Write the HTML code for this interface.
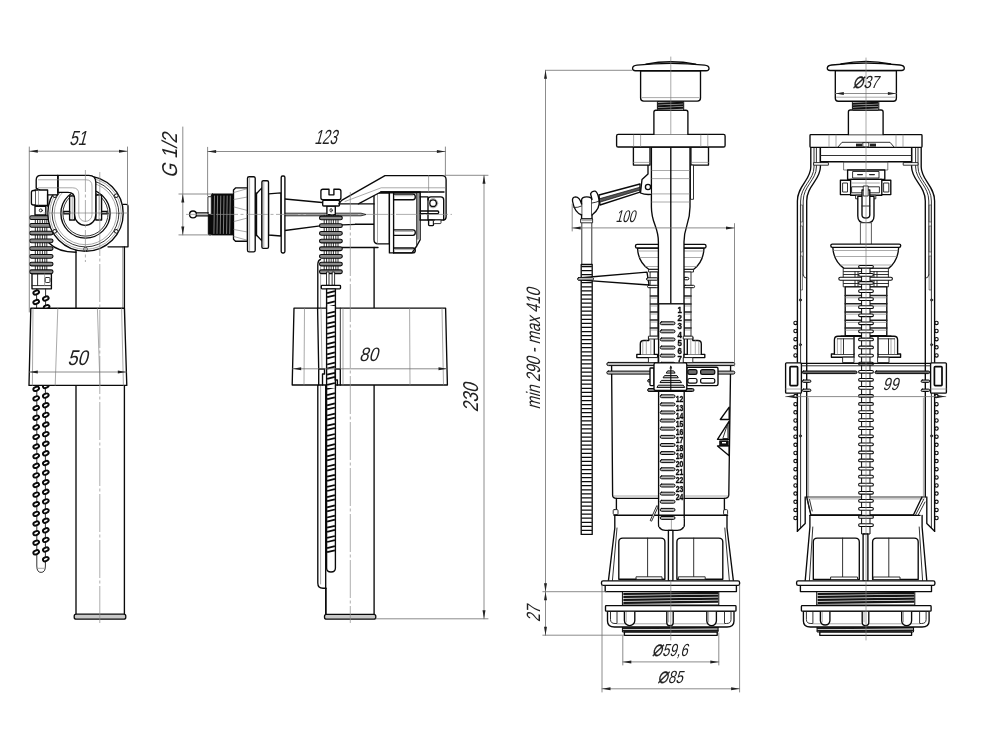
<!DOCTYPE html>
<html lang="en"><head><meta charset="utf-8"><title>Drawing</title>
<style>html,body{margin:0;padding:0;background:#fff;}body{width:1000px;height:750px;overflow:hidden;}svg{display:block;filter:grayscale(1);}</style>
</head><body>
<svg width="1000" height="750" viewBox="0 0 1000 750" font-family="'Liberation Sans', sans-serif" stroke-linecap="round" stroke-linejoin="round">
<g id="d1">
<line x1="76.0" y1="250.0" x2="76.0" y2="614.5" stroke="#0a0a0a" stroke-width="1.35" fill="none"/>
<line x1="124.4" y1="247.0" x2="124.4" y2="614.5" stroke="#0a0a0a" stroke-width="1.35" fill="none"/>
<line x1="122.6" y1="247.0" x2="122.6" y2="308.0" stroke="#7c7c7c" stroke-width="0.65" fill="none"/>
<path d="M123 204.4 H126 Q128 204.4 128 206.4 V246.8 H108" stroke="#0a0a0a" stroke-width="1.35" fill="none"/>
<rect x="74.2" y="614.2" width="51.6" height="5.0" rx="2" stroke="#0a0a0a" stroke-width="1.3" fill="#c8c8c8"/>
<path d="M49 243 Q58 252.2 76 252.2" stroke="#0a0a0a" stroke-width="1.35" fill="none"/>
<line x1="35.3" y1="215.0" x2="35.3" y2="273.8" stroke="#1c1c1c" stroke-width="0.9" fill="none"/>
<line x1="37.6" y1="215.0" x2="37.6" y2="273.8" stroke="#1c1c1c" stroke-width="0.9" fill="none"/>
<line x1="40.0" y1="215.0" x2="40.0" y2="273.8" stroke="#1c1c1c" stroke-width="0.9" fill="none"/>
<line x1="42.4" y1="215.0" x2="42.4" y2="273.8" stroke="#1c1c1c" stroke-width="0.9" fill="none"/>
<line x1="44.8" y1="215.0" x2="44.8" y2="273.8" stroke="#1c1c1c" stroke-width="0.9" fill="none"/>
<line x1="46.8" y1="215.0" x2="46.8" y2="273.8" stroke="#1c1c1c" stroke-width="0.9" fill="none"/>
<rect x="29.6" y="215.8" width="23.4" height="3.7" rx="1.85" stroke="#0a0a0a" stroke-width="1.1" fill="#8a8a8a"/>
<rect x="29.6" y="223.5" width="23.4" height="3.7" rx="1.85" stroke="#0a0a0a" stroke-width="1.1" fill="#8a8a8a"/>
<rect x="29.6" y="231.2" width="23.4" height="3.7" rx="1.85" stroke="#0a0a0a" stroke-width="1.1" fill="#8a8a8a"/>
<rect x="29.6" y="239.0" width="23.4" height="3.7" rx="1.85" stroke="#0a0a0a" stroke-width="1.1" fill="#8a8a8a"/>
<rect x="29.6" y="246.7" width="23.4" height="3.7" rx="1.85" stroke="#0a0a0a" stroke-width="1.1" fill="#8a8a8a"/>
<rect x="29.6" y="254.5" width="23.4" height="3.7" rx="1.85" stroke="#0a0a0a" stroke-width="1.1" fill="#8a8a8a"/>
<rect x="29.6" y="262.2" width="23.4" height="3.7" rx="1.85" stroke="#0a0a0a" stroke-width="1.1" fill="#8a8a8a"/>
<rect x="29.6" y="269.9" width="23.4" height="3.7" rx="1.85" stroke="#0a0a0a" stroke-width="1.1" fill="#8a8a8a"/>
<circle cx="85.5" cy="213.5" r="37.7" stroke="#0a0a0a" stroke-width="1.35" fill="#fff"/>
<circle cx="85.5" cy="213.5" r="35.8" stroke="#7c7c7c" stroke-width="0.65" fill="none"/>
<circle cx="85.5" cy="213.5" r="33.4" stroke="#1c1c1c" stroke-width="0.9" fill="none"/>
<circle cx="85.5" cy="213.5" r="31.2" stroke="#7c7c7c" stroke-width="0.65" fill="none"/>
<circle cx="85.5" cy="213.5" r="24.6" stroke="#0a0a0a" stroke-width="1.35" fill="none"/>
<circle cx="85.5" cy="213.5" r="22.6" stroke="#1c1c1c" stroke-width="0.9" fill="none"/>
<rect x="114.7" y="194.1" width="3.2" height="3.2" rx="0.8" transform="rotate(60 116.3 195.7)" stroke="#1c1c1c" stroke-width="0.9" fill="#fff"/>
<rect x="114.7" y="229.7" width="3.2" height="3.2" rx="0.8" transform="rotate(120 116.3 231.3)" stroke="#1c1c1c" stroke-width="0.9" fill="#fff"/>
<rect x="83.9" y="247.5" width="3.2" height="3.2" rx="0.8" transform="rotate(180 85.5 249.1)" stroke="#1c1c1c" stroke-width="0.9" fill="#fff"/>
<rect x="53.1" y="229.7" width="3.2" height="3.2" rx="0.8" transform="rotate(240 54.7 231.3)" stroke="#1c1c1c" stroke-width="0.9" fill="#fff"/>
<rect x="53.1" y="194.1" width="3.2" height="3.2" rx="0.8" transform="rotate(300 54.7 195.7)" stroke="#1c1c1c" stroke-width="0.9" fill="#fff"/>
<rect x="69.6" y="196.0" width="5.0" height="24.0" rx="0" stroke="#0a0a0a" stroke-width="1.35" fill="#fff"/>
<line x1="72.2" y1="196.0" x2="72.2" y2="220.0" stroke="#7c7c7c" stroke-width="0.65" fill="none"/>
<rect x="95.8" y="195.0" width="5.8" height="25.0" rx="0" stroke="#0a0a0a" stroke-width="1.35" fill="#fff"/>
<line x1="99.0" y1="195.0" x2="99.0" y2="220.0" stroke="#7c7c7c" stroke-width="0.65" fill="none"/>
<rect x="63.8" y="211.5" width="5.8" height="2.2" rx="0" stroke="#0a0a0a" stroke-width="1.35" fill="#fff"/>
<rect x="101.6" y="211.5" width="5.4" height="2.2" rx="0" stroke="#0a0a0a" stroke-width="1.35" fill="#fff"/>
<path d="M57.8 175.4 H88.8 Q95.8 175.4 95.8 182.4 V214.8 A10.6 10.6 0 0 1 74.6 214.8 V199 Q74.6 192.4 68 192.4 H57.8 Z" stroke="#0a0a0a" stroke-width="1.35" fill="#fff"/>
<path d="M57.8 175.4 H41 Q36.2 175.4 36.2 180 V188.2 L47.6 194.8 H57.8 Z" stroke="#0a0a0a" stroke-width="1.35" fill="#fff"/>
<line x1="57.8" y1="175.4" x2="57.8" y2="192.4" stroke="#0a0a0a" stroke-width="1.35" fill="none"/>
<path d="M38.5 179.8 H86 Q92 179.8 92 186 V214.8 A6.6 6.6 0 0 1 78.8 214.8 V194 Q78.8 187.8 72.6 187.8 H38.5" stroke="#7c7c7c" stroke-width="0.65" fill="none"/>
<path d="M35 190 H47.6 V205.5 H35 Z" stroke="#0a0a0a" stroke-width="1.35" fill="#fff"/>
<path d="M35 190.5 H33.4 Q31.4 190.5 31.4 192.5 V203 Q31.4 205 33.4 205 H35" stroke="#0a0a0a" stroke-width="1.35" fill="#fff"/>
<line x1="38.5" y1="190.0" x2="38.5" y2="205.5" stroke="#7c7c7c" stroke-width="0.65" fill="none"/>
<rect x="35.0" y="206.2" width="10.8" height="8.8" rx="0" stroke="#0a0a0a" stroke-width="1.35" fill="#fff"/>
<circle cx="40.8" cy="210.4" r="1.5" stroke="#1c1c1c" stroke-width="0.9" fill="none"/>
<line x1="47.6" y1="194.8" x2="47.6" y2="206.0" stroke="#0a0a0a" stroke-width="1.35" fill="none"/>
<rect x="32.0" y="273.8" width="19.4" height="15.0" rx="0" stroke="#0a0a0a" stroke-width="1.35" fill="#fff"/>
<line x1="32.0" y1="285.6" x2="51.4" y2="285.6" stroke="#1c1c1c" stroke-width="0.9" fill="none"/>
<line x1="37.6" y1="273.8" x2="37.6" y2="285.6" stroke="#1c1c1c" stroke-width="0.9" fill="none"/>
<line x1="44.6" y1="273.8" x2="44.6" y2="285.6" stroke="#7c7c7c" stroke-width="0.65" fill="none"/>
<rect x="45.2" y="277.5" width="4.8" height="5.0" rx="1" stroke="#1c1c1c" stroke-width="0.9" fill="none"/>
<line x1="36.6" y1="289.0" x2="36.6" y2="308.0" stroke="#1c1c1c" stroke-width="0.9" fill="none"/>
<line x1="45.6" y1="289.0" x2="45.6" y2="308.0" stroke="#1c1c1c" stroke-width="0.9" fill="none"/>
<ellipse cx="36.2" cy="292.5" rx="3.0" ry="1.9" transform="rotate(-24 36.2 292.5)" stroke="#0a0a0a" stroke-width="1.9" fill="#fff"/>
<ellipse cx="36.2" cy="302.0" rx="3.0" ry="1.9" transform="rotate(-24 36.2 302.0)" stroke="#0a0a0a" stroke-width="1.9" fill="#fff"/>
<ellipse cx="45.8" cy="298.5" rx="3.0" ry="1.9" transform="rotate(-24 45.8 298.5)" stroke="#0a0a0a" stroke-width="1.9" fill="#fff"/>
<ellipse cx="46.6" cy="307.2" rx="3.0" ry="1.9" transform="rotate(-24 46.6 307.2)" stroke="#0a0a0a" stroke-width="1.9" fill="#fff"/>
<path d="M36.8 385.5 V566 Q36.8 572.4 41.1 572.4 Q45.4 572.4 45.4 566 V385.5" stroke="#1c1c1c" stroke-width="0.9" fill="none"/>
<line x1="38.0" y1="568.3" x2="44.2" y2="568.3" stroke="#7c7c7c" stroke-width="0.65" fill="none"/>
<ellipse cx="36.2" cy="388.8" rx="3.0" ry="1.9" transform="rotate(-24 36.2 388.8)" stroke="#0a0a0a" stroke-width="1.9" fill="#fff"/>
<ellipse cx="36.2" cy="398.4" rx="3.0" ry="1.9" transform="rotate(-24 36.2 398.4)" stroke="#0a0a0a" stroke-width="1.9" fill="#fff"/>
<ellipse cx="36.2" cy="408.0" rx="3.0" ry="1.9" transform="rotate(-24 36.2 408.0)" stroke="#0a0a0a" stroke-width="1.9" fill="#fff"/>
<ellipse cx="36.2" cy="417.7" rx="3.0" ry="1.9" transform="rotate(-24 36.2 417.7)" stroke="#0a0a0a" stroke-width="1.9" fill="#fff"/>
<ellipse cx="36.2" cy="427.3" rx="3.0" ry="1.9" transform="rotate(-24 36.2 427.3)" stroke="#0a0a0a" stroke-width="1.9" fill="#fff"/>
<ellipse cx="36.2" cy="436.9" rx="3.0" ry="1.9" transform="rotate(-24 36.2 436.9)" stroke="#0a0a0a" stroke-width="1.9" fill="#fff"/>
<ellipse cx="36.2" cy="446.5" rx="3.0" ry="1.9" transform="rotate(-24 36.2 446.5)" stroke="#0a0a0a" stroke-width="1.9" fill="#fff"/>
<ellipse cx="36.2" cy="456.1" rx="3.0" ry="1.9" transform="rotate(-24 36.2 456.1)" stroke="#0a0a0a" stroke-width="1.9" fill="#fff"/>
<ellipse cx="36.2" cy="465.8" rx="3.0" ry="1.9" transform="rotate(-24 36.2 465.8)" stroke="#0a0a0a" stroke-width="1.9" fill="#fff"/>
<ellipse cx="36.2" cy="475.4" rx="3.0" ry="1.9" transform="rotate(-24 36.2 475.4)" stroke="#0a0a0a" stroke-width="1.9" fill="#fff"/>
<ellipse cx="36.2" cy="485.0" rx="3.0" ry="1.9" transform="rotate(-24 36.2 485.0)" stroke="#0a0a0a" stroke-width="1.9" fill="#fff"/>
<ellipse cx="36.2" cy="494.6" rx="3.0" ry="1.9" transform="rotate(-24 36.2 494.6)" stroke="#0a0a0a" stroke-width="1.9" fill="#fff"/>
<ellipse cx="36.2" cy="504.2" rx="3.0" ry="1.9" transform="rotate(-24 36.2 504.2)" stroke="#0a0a0a" stroke-width="1.9" fill="#fff"/>
<ellipse cx="36.2" cy="513.9" rx="3.0" ry="1.9" transform="rotate(-24 36.2 513.9)" stroke="#0a0a0a" stroke-width="1.9" fill="#fff"/>
<ellipse cx="36.2" cy="523.5" rx="3.0" ry="1.9" transform="rotate(-24 36.2 523.5)" stroke="#0a0a0a" stroke-width="1.9" fill="#fff"/>
<ellipse cx="36.2" cy="533.1" rx="3.0" ry="1.9" transform="rotate(-24 36.2 533.1)" stroke="#0a0a0a" stroke-width="1.9" fill="#fff"/>
<ellipse cx="36.2" cy="542.7" rx="3.0" ry="1.9" transform="rotate(-24 36.2 542.7)" stroke="#0a0a0a" stroke-width="1.9" fill="#fff"/>
<ellipse cx="36.2" cy="552.3" rx="3.0" ry="1.9" transform="rotate(-24 36.2 552.3)" stroke="#0a0a0a" stroke-width="1.9" fill="#fff"/>
<ellipse cx="45.8" cy="386.0" rx="3.0" ry="1.9" transform="rotate(-24 45.8 386.0)" stroke="#0a0a0a" stroke-width="1.9" fill="#fff"/>
<ellipse cx="45.8" cy="395.6" rx="3.0" ry="1.9" transform="rotate(-24 45.8 395.6)" stroke="#0a0a0a" stroke-width="1.9" fill="#fff"/>
<ellipse cx="45.8" cy="405.2" rx="3.0" ry="1.9" transform="rotate(-24 45.8 405.2)" stroke="#0a0a0a" stroke-width="1.9" fill="#fff"/>
<ellipse cx="45.8" cy="414.9" rx="3.0" ry="1.9" transform="rotate(-24 45.8 414.9)" stroke="#0a0a0a" stroke-width="1.9" fill="#fff"/>
<ellipse cx="45.8" cy="424.5" rx="3.0" ry="1.9" transform="rotate(-24 45.8 424.5)" stroke="#0a0a0a" stroke-width="1.9" fill="#fff"/>
<ellipse cx="45.8" cy="434.1" rx="3.0" ry="1.9" transform="rotate(-24 45.8 434.1)" stroke="#0a0a0a" stroke-width="1.9" fill="#fff"/>
<ellipse cx="45.8" cy="443.7" rx="3.0" ry="1.9" transform="rotate(-24 45.8 443.7)" stroke="#0a0a0a" stroke-width="1.9" fill="#fff"/>
<ellipse cx="45.8" cy="453.3" rx="3.0" ry="1.9" transform="rotate(-24 45.8 453.3)" stroke="#0a0a0a" stroke-width="1.9" fill="#fff"/>
<ellipse cx="45.8" cy="463.0" rx="3.0" ry="1.9" transform="rotate(-24 45.8 463.0)" stroke="#0a0a0a" stroke-width="1.9" fill="#fff"/>
<ellipse cx="45.8" cy="472.6" rx="3.0" ry="1.9" transform="rotate(-24 45.8 472.6)" stroke="#0a0a0a" stroke-width="1.9" fill="#fff"/>
<ellipse cx="45.8" cy="482.2" rx="3.0" ry="1.9" transform="rotate(-24 45.8 482.2)" stroke="#0a0a0a" stroke-width="1.9" fill="#fff"/>
<ellipse cx="45.8" cy="491.8" rx="3.0" ry="1.9" transform="rotate(-24 45.8 491.8)" stroke="#0a0a0a" stroke-width="1.9" fill="#fff"/>
<ellipse cx="45.8" cy="501.4" rx="3.0" ry="1.9" transform="rotate(-24 45.8 501.4)" stroke="#0a0a0a" stroke-width="1.9" fill="#fff"/>
<ellipse cx="45.8" cy="511.1" rx="3.0" ry="1.9" transform="rotate(-24 45.8 511.1)" stroke="#0a0a0a" stroke-width="1.9" fill="#fff"/>
<ellipse cx="45.8" cy="520.7" rx="3.0" ry="1.9" transform="rotate(-24 45.8 520.7)" stroke="#0a0a0a" stroke-width="1.9" fill="#fff"/>
<ellipse cx="45.8" cy="530.3" rx="3.0" ry="1.9" transform="rotate(-24 45.8 530.3)" stroke="#0a0a0a" stroke-width="1.9" fill="#fff"/>
<ellipse cx="45.8" cy="539.9" rx="3.0" ry="1.9" transform="rotate(-24 45.8 539.9)" stroke="#0a0a0a" stroke-width="1.9" fill="#fff"/>
<ellipse cx="45.8" cy="549.5" rx="3.0" ry="1.9" transform="rotate(-24 45.8 549.5)" stroke="#0a0a0a" stroke-width="1.9" fill="#fff"/>
<ellipse cx="45.8" cy="559.2" rx="3.0" ry="1.9" transform="rotate(-24 45.8 559.2)" stroke="#0a0a0a" stroke-width="1.9" fill="#fff"/>
<path d="M30.8 308.2 H124.4 L126.8 385.4 H29 Z" stroke="#0a0a0a" stroke-width="1.35" fill="#fff"/>
<line x1="33.0" y1="308.2" x2="32.4" y2="385.4" stroke="#7c7c7c" stroke-width="0.65" fill="none"/>
<line x1="57.8" y1="308.2" x2="55.2" y2="385.4" stroke="#7c7c7c" stroke-width="0.65" fill="none"/>
<line x1="97.4" y1="308.2" x2="100.0" y2="385.4" stroke="#7c7c7c" stroke-width="0.65" fill="none"/>
<line x1="121.6" y1="308.2" x2="123.4" y2="385.4" stroke="#7c7c7c" stroke-width="0.65" fill="none"/>
<line x1="85.4" y1="170.0" x2="85.4" y2="262.0" stroke="#8c8c8c" stroke-width="0.7" fill="none" stroke-dasharray="22 2.5 3 2.5" stroke-linecap="butt"/>
<line x1="99.8" y1="172.0" x2="99.8" y2="623.0" stroke="#8c8c8c" stroke-width="0.7" fill="none" stroke-dasharray="38 2.5 3 2.5" stroke-linecap="butt"/>
<line x1="44.0" y1="213.0" x2="128.0" y2="213.0" stroke="#7c7c7c" stroke-width="0.65" fill="none"/>
<line x1="29.3" y1="147.0" x2="29.3" y2="312.0" stroke="#6e6e6e" stroke-width="0.8" fill="none"/>
<line x1="127.5" y1="147.0" x2="127.5" y2="206.0" stroke="#6e6e6e" stroke-width="0.8" fill="none"/>
<line x1="29.3" y1="151.2" x2="127.5" y2="151.2" stroke="#6e6e6e" stroke-width="0.8" fill="none"/>
<polygon points="29.3,151.2 37.8,149.7 37.8,152.7" fill="#222"/>
<polygon points="127.5,151.2 119.0,152.7 119.0,149.7" fill="#222"/>
<text transform="translate(77.6 144.6) skewX(-15) scale(0.76 1)" font-size="20.5" font-weight="normal" text-anchor="middle" fill="#222">51</text>
<line x1="29.3" y1="372.0" x2="126.3" y2="372.0" stroke="#6e6e6e" stroke-width="0.8" fill="none"/>
<polygon points="29.3,372.0 37.8,370.5 37.8,373.5" fill="#222"/>
<polygon points="126.3,372.0 117.8,373.5 117.8,370.5" fill="#222"/>
<text transform="translate(77.2 365.0) skewX(-15) scale(0.85 1)" font-size="21.3" font-weight="normal" text-anchor="middle" fill="#222">50</text>
</g>
<g id="d2">
<path d="M320.5 259.5 Q317.8 260.5 317.8 265 V583 Q317.8 588.2 323 588.2 H325.9" stroke="#0a0a0a" stroke-width="1.35" fill="none"/>
<line x1="320.6" y1="266.0" x2="320.6" y2="584.0" stroke="#7c7c7c" stroke-width="0.65" fill="none"/>
<line x1="325.9" y1="588.2" x2="325.9" y2="614.3" stroke="#0a0a0a" stroke-width="1.35" fill="none"/>
<line x1="374.1" y1="247.5" x2="374.1" y2="614.3" stroke="#0a0a0a" stroke-width="1.35" fill="none"/>
<rect x="324.5" y="614.3" width="51.3" height="4.9" rx="2" stroke="#0a0a0a" stroke-width="1.3" fill="#c8c8c8"/>
<line x1="342.3" y1="247.5" x2="378.0" y2="247.5" stroke="#0a0a0a" stroke-width="1.35" fill="none"/>
<path d="M284.9 199.0 L322.0 202.5" stroke="#0a0a0a" stroke-width="1.35" fill="none"/>
<path d="M284.9 230.5 L322.0 225.6 L356.0 224.4" stroke="#0a0a0a" stroke-width="1.35" fill="none"/>
<line x1="355.6" y1="224.2" x2="374.0" y2="224.2" stroke="#0a0a0a" stroke-width="1.35" fill="none"/>
<path d="M284.9 213.2 H361 L366 214.5 L361 215.8 H284.9 Z" stroke="#1c1c1c" stroke-width="0.9" fill="#bbb"/>
<rect x="211.3" y="194.0" width="22.2" height="40.9" rx="1" fill="#0a0a0a" stroke="#0a0a0a" stroke-width="1"/>
<rect x="208.3" y="214.4" width="3.7" height="20.5" rx="1" fill="#0a0a0a" stroke="#0a0a0a" stroke-width="1"/>
<rect x="208.3" y="196.7" width="3.0" height="17.7" rx="0" stroke="#1c1c1c" stroke-width="0.9" fill="#fff"/>
<line x1="214.5" y1="196.0" x2="213.9" y2="233.5" stroke="#ddd" stroke-width="0.55"/>
<line x1="217.6" y1="196.0" x2="217.0" y2="233.5" stroke="#ddd" stroke-width="0.55"/>
<line x1="220.8" y1="196.0" x2="220.2" y2="233.5" stroke="#ddd" stroke-width="0.55"/>
<line x1="224.0" y1="196.0" x2="223.4" y2="233.5" stroke="#ddd" stroke-width="0.55"/>
<line x1="227.2" y1="196.0" x2="226.6" y2="233.5" stroke="#ddd" stroke-width="0.55"/>
<line x1="230.3" y1="196.0" x2="229.7" y2="233.5" stroke="#ddd" stroke-width="0.55"/>
<line x1="196.0" y1="212.9" x2="208.3" y2="212.9" stroke="#0a0a0a" stroke-width="1.35" fill="none"/>
<line x1="196.0" y1="215.9" x2="208.3" y2="215.9" stroke="#0a0a0a" stroke-width="1.35" fill="none"/>
<circle cx="193.0" cy="214.4" r="3.4" stroke="#0a0a0a" stroke-width="1.35" fill="#fff"/>
<path d="M235.5 187.9 H247.5 V241.2 H235.5 L233.5 239.2 V189.9 Z" stroke="#0a0a0a" stroke-width="1.35" fill="#fff"/>
<line x1="233.8" y1="192.5" x2="247.5" y2="188.6" stroke="#7c7c7c" stroke-width="0.65" fill="none"/>
<line x1="233.8" y1="236.5" x2="247.5" y2="240.3" stroke="#7c7c7c" stroke-width="0.65" fill="none"/>
<line x1="234.0" y1="207.0" x2="247.5" y2="210.5" stroke="#7c7c7c" stroke-width="0.65" fill="none"/>
<line x1="234.0" y1="221.5" x2="247.5" y2="218.0" stroke="#7c7c7c" stroke-width="0.65" fill="none"/>
<line x1="233.8" y1="199.5" x2="247.5" y2="197.0" stroke="#7c7c7c" stroke-width="0.65" fill="none"/>
<line x1="233.8" y1="229.5" x2="247.5" y2="232.0" stroke="#7c7c7c" stroke-width="0.65" fill="none"/>
<path d="M255.2 193.5 H256.6 L261.9 187.9 V240.9 L256.6 235.3 H255.2 Z" stroke="#0a0a0a" stroke-width="1.35" fill="#fff"/>
<line x1="256.2" y1="193.5" x2="256.2" y2="235.3" stroke="#0a0a0a" stroke-width="2"/>
<path d="M268.5 193.8 L281 192.8 V236 L268.5 235 Z" stroke="#0a0a0a" stroke-width="1.35" fill="#fff"/>
<rect x="247.5" y="176.7" width="7.7" height="75.2" rx="1.6" stroke="#0a0a0a" stroke-width="1.35" fill="#fff"/>
<line x1="249.6" y1="178.0" x2="249.6" y2="250.6" stroke="#7c7c7c" stroke-width="0.65" fill="none"/>
<rect x="261.9" y="180.7" width="6.6" height="67.7" rx="1.4" stroke="#0a0a0a" stroke-width="1.35" fill="#fff"/>
<line x1="263.8" y1="182.0" x2="263.8" y2="247.0" stroke="#7c7c7c" stroke-width="0.65" fill="none"/>
<rect x="281.2" y="176.0" width="3.7" height="77.0" rx="1.4" stroke="#0a0a0a" stroke-width="1.35" fill="#fff"/>
<line x1="324.2" y1="215.0" x2="324.2" y2="272.0" stroke="#1c1c1c" stroke-width="0.9" fill="none"/>
<line x1="326.6" y1="215.0" x2="326.6" y2="272.0" stroke="#1c1c1c" stroke-width="0.9" fill="none"/>
<line x1="329.0" y1="215.0" x2="329.0" y2="272.0" stroke="#1c1c1c" stroke-width="0.9" fill="none"/>
<line x1="331.2" y1="215.0" x2="331.2" y2="272.0" stroke="#1c1c1c" stroke-width="0.9" fill="none"/>
<line x1="333.4" y1="215.0" x2="333.4" y2="272.0" stroke="#1c1c1c" stroke-width="0.9" fill="none"/>
<line x1="335.8" y1="215.0" x2="335.8" y2="272.0" stroke="#1c1c1c" stroke-width="0.9" fill="none"/>
<line x1="338.0" y1="215.0" x2="338.0" y2="272.0" stroke="#1c1c1c" stroke-width="0.9" fill="none"/>
<rect x="319.5" y="216.1" width="22.8" height="3.7" rx="1.85" stroke="#0a0a0a" stroke-width="1.1" fill="#8a8a8a"/>
<rect x="319.5" y="223.8" width="22.8" height="3.7" rx="1.85" stroke="#0a0a0a" stroke-width="1.1" fill="#8a8a8a"/>
<rect x="319.5" y="231.5" width="22.8" height="3.7" rx="1.85" stroke="#0a0a0a" stroke-width="1.1" fill="#8a8a8a"/>
<rect x="319.5" y="239.2" width="22.8" height="3.7" rx="1.85" stroke="#0a0a0a" stroke-width="1.1" fill="#8a8a8a"/>
<rect x="319.5" y="246.9" width="22.8" height="3.7" rx="1.85" stroke="#0a0a0a" stroke-width="1.1" fill="#8a8a8a"/>
<rect x="319.5" y="254.5" width="22.8" height="3.7" rx="1.85" stroke="#0a0a0a" stroke-width="1.1" fill="#8a8a8a"/>
<rect x="319.5" y="262.2" width="22.8" height="3.7" rx="1.85" stroke="#0a0a0a" stroke-width="1.1" fill="#8a8a8a"/>
<rect x="319.5" y="269.9" width="22.8" height="3.7" rx="1.85" stroke="#0a0a0a" stroke-width="1.1" fill="#8a8a8a"/>
<rect x="326.9" y="206.0" width="8.4" height="8.6" rx="0" stroke="#0a0a0a" stroke-width="1.35" fill="#fff"/>
<ellipse cx="331.1" cy="210.3" rx="1.1" ry="1.8" stroke="#1c1c1c" stroke-width="0.9" fill="none"/>
<rect x="322.7" y="200.4" width="16.8" height="5.6" rx="1" stroke="#0a0a0a" stroke-width="1.35" fill="#fff"/>
<path d="M322.9 189.2 H329 V194.8 H333.9 V189.2 H338.9 Q340.9 189.2 340.9 191.2 V197.7 Q340.9 199.7 338.9 199.7 H322.9 Q320.9 199.7 320.9 197.7 V191.2 Q320.9 189.2 322.9 189.2 Z" stroke="#0a0a0a" stroke-width="1.35" fill="#fff"/>
<rect x="326.9" y="272.0" width="2.1" height="13.3" rx="0" stroke="#1c1c1c" stroke-width="0.9" fill="#fff"/>
<rect x="332.5" y="272.0" width="2.1" height="13.3" rx="0" stroke="#1c1c1c" stroke-width="0.9" fill="#fff"/>
<rect x="321.3" y="285.3" width="19.2" height="3.5" rx="0.8" stroke="#0a0a0a" stroke-width="1.35" fill="#fff"/>
<line x1="325.7" y1="385.0" x2="325.7" y2="614.3" stroke="#0a0a0a" stroke-width="1.35" fill="none"/>
<path d="M326.6 288.8 V568 Q326.6 572 331 572 Q335.4 572 335.4 568 V288.8 Z" stroke="#0a0a0a" stroke-width="1.35" fill="#fff"/>
<line x1="327.1" y1="293.1" x2="334.9" y2="291.2" stroke="#0a0a0a" stroke-width="1.7" stroke-linecap="butt"/>
<line x1="327.1" y1="297.2" x2="334.9" y2="295.3" stroke="#0a0a0a" stroke-width="1.7" stroke-linecap="butt"/>
<line x1="327.1" y1="303.3" x2="334.9" y2="301.4" stroke="#0a0a0a" stroke-width="1.7" stroke-linecap="butt"/>
<line x1="327.1" y1="307.4" x2="334.9" y2="305.5" stroke="#0a0a0a" stroke-width="1.7" stroke-linecap="butt"/>
<line x1="327.1" y1="313.5" x2="334.9" y2="311.6" stroke="#0a0a0a" stroke-width="1.7" stroke-linecap="butt"/>
<line x1="327.1" y1="317.6" x2="334.9" y2="315.7" stroke="#0a0a0a" stroke-width="1.7" stroke-linecap="butt"/>
<line x1="327.1" y1="323.7" x2="334.9" y2="321.8" stroke="#0a0a0a" stroke-width="1.7" stroke-linecap="butt"/>
<line x1="327.1" y1="327.8" x2="334.9" y2="325.9" stroke="#0a0a0a" stroke-width="1.7" stroke-linecap="butt"/>
<line x1="327.1" y1="333.9" x2="334.9" y2="332.0" stroke="#0a0a0a" stroke-width="1.7" stroke-linecap="butt"/>
<line x1="327.1" y1="338.0" x2="334.9" y2="336.1" stroke="#0a0a0a" stroke-width="1.7" stroke-linecap="butt"/>
<line x1="327.1" y1="344.1" x2="334.9" y2="342.2" stroke="#0a0a0a" stroke-width="1.7" stroke-linecap="butt"/>
<line x1="327.1" y1="348.2" x2="334.9" y2="346.3" stroke="#0a0a0a" stroke-width="1.7" stroke-linecap="butt"/>
<line x1="327.1" y1="354.3" x2="334.9" y2="352.4" stroke="#0a0a0a" stroke-width="1.7" stroke-linecap="butt"/>
<line x1="327.1" y1="358.4" x2="334.9" y2="356.5" stroke="#0a0a0a" stroke-width="1.7" stroke-linecap="butt"/>
<line x1="327.1" y1="364.5" x2="334.9" y2="362.6" stroke="#0a0a0a" stroke-width="1.7" stroke-linecap="butt"/>
<line x1="327.1" y1="368.6" x2="334.9" y2="366.7" stroke="#0a0a0a" stroke-width="1.7" stroke-linecap="butt"/>
<line x1="327.1" y1="374.7" x2="334.9" y2="372.8" stroke="#0a0a0a" stroke-width="1.7" stroke-linecap="butt"/>
<line x1="327.1" y1="378.8" x2="334.9" y2="376.9" stroke="#0a0a0a" stroke-width="1.7" stroke-linecap="butt"/>
<line x1="327.1" y1="384.9" x2="334.9" y2="383.0" stroke="#0a0a0a" stroke-width="1.7" stroke-linecap="butt"/>
<line x1="327.1" y1="389.0" x2="334.9" y2="387.1" stroke="#0a0a0a" stroke-width="1.7" stroke-linecap="butt"/>
<line x1="327.1" y1="395.1" x2="334.9" y2="393.2" stroke="#0a0a0a" stroke-width="1.7" stroke-linecap="butt"/>
<line x1="327.1" y1="399.2" x2="334.9" y2="397.3" stroke="#0a0a0a" stroke-width="1.7" stroke-linecap="butt"/>
<line x1="327.1" y1="405.3" x2="334.9" y2="403.4" stroke="#0a0a0a" stroke-width="1.7" stroke-linecap="butt"/>
<line x1="327.1" y1="409.4" x2="334.9" y2="407.5" stroke="#0a0a0a" stroke-width="1.7" stroke-linecap="butt"/>
<line x1="327.1" y1="415.5" x2="334.9" y2="413.6" stroke="#0a0a0a" stroke-width="1.7" stroke-linecap="butt"/>
<line x1="327.1" y1="419.6" x2="334.9" y2="417.7" stroke="#0a0a0a" stroke-width="1.7" stroke-linecap="butt"/>
<line x1="327.1" y1="425.7" x2="334.9" y2="423.8" stroke="#0a0a0a" stroke-width="1.7" stroke-linecap="butt"/>
<line x1="327.1" y1="429.8" x2="334.9" y2="427.9" stroke="#0a0a0a" stroke-width="1.7" stroke-linecap="butt"/>
<line x1="327.1" y1="435.9" x2="334.9" y2="434.0" stroke="#0a0a0a" stroke-width="1.7" stroke-linecap="butt"/>
<line x1="327.1" y1="440.0" x2="334.9" y2="438.1" stroke="#0a0a0a" stroke-width="1.7" stroke-linecap="butt"/>
<line x1="327.1" y1="446.1" x2="334.9" y2="444.2" stroke="#0a0a0a" stroke-width="1.7" stroke-linecap="butt"/>
<line x1="327.1" y1="450.2" x2="334.9" y2="448.3" stroke="#0a0a0a" stroke-width="1.7" stroke-linecap="butt"/>
<line x1="327.1" y1="456.3" x2="334.9" y2="454.4" stroke="#0a0a0a" stroke-width="1.7" stroke-linecap="butt"/>
<line x1="327.1" y1="460.4" x2="334.9" y2="458.5" stroke="#0a0a0a" stroke-width="1.7" stroke-linecap="butt"/>
<line x1="327.1" y1="466.5" x2="334.9" y2="464.6" stroke="#0a0a0a" stroke-width="1.7" stroke-linecap="butt"/>
<line x1="327.1" y1="470.6" x2="334.9" y2="468.7" stroke="#0a0a0a" stroke-width="1.7" stroke-linecap="butt"/>
<line x1="327.1" y1="476.7" x2="334.9" y2="474.8" stroke="#0a0a0a" stroke-width="1.7" stroke-linecap="butt"/>
<line x1="327.1" y1="480.8" x2="334.9" y2="478.9" stroke="#0a0a0a" stroke-width="1.7" stroke-linecap="butt"/>
<line x1="327.1" y1="486.9" x2="334.9" y2="485.0" stroke="#0a0a0a" stroke-width="1.7" stroke-linecap="butt"/>
<line x1="327.1" y1="491.0" x2="334.9" y2="489.1" stroke="#0a0a0a" stroke-width="1.7" stroke-linecap="butt"/>
<line x1="327.1" y1="497.1" x2="334.9" y2="495.2" stroke="#0a0a0a" stroke-width="1.7" stroke-linecap="butt"/>
<line x1="327.1" y1="501.2" x2="334.9" y2="499.3" stroke="#0a0a0a" stroke-width="1.7" stroke-linecap="butt"/>
<line x1="327.1" y1="507.3" x2="334.9" y2="505.4" stroke="#0a0a0a" stroke-width="1.7" stroke-linecap="butt"/>
<line x1="327.1" y1="511.4" x2="334.9" y2="509.5" stroke="#0a0a0a" stroke-width="1.7" stroke-linecap="butt"/>
<line x1="327.1" y1="517.5" x2="334.9" y2="515.6" stroke="#0a0a0a" stroke-width="1.7" stroke-linecap="butt"/>
<line x1="327.1" y1="521.6" x2="334.9" y2="519.7" stroke="#0a0a0a" stroke-width="1.7" stroke-linecap="butt"/>
<line x1="327.1" y1="527.7" x2="334.9" y2="525.8" stroke="#0a0a0a" stroke-width="1.7" stroke-linecap="butt"/>
<line x1="327.1" y1="531.8" x2="334.9" y2="529.9" stroke="#0a0a0a" stroke-width="1.7" stroke-linecap="butt"/>
<line x1="327.1" y1="537.9" x2="334.9" y2="536.0" stroke="#0a0a0a" stroke-width="1.7" stroke-linecap="butt"/>
<line x1="327.1" y1="542.0" x2="334.9" y2="540.1" stroke="#0a0a0a" stroke-width="1.7" stroke-linecap="butt"/>
<line x1="327.1" y1="548.1" x2="334.9" y2="546.2" stroke="#0a0a0a" stroke-width="1.7" stroke-linecap="butt"/>
<line x1="327.1" y1="552.2" x2="334.9" y2="550.3" stroke="#0a0a0a" stroke-width="1.7" stroke-linecap="butt"/>
<path d="M374 193 H389.4 V243.8 H378 Q374 243.8 374 239.8 Z" stroke="#0a0a0a" stroke-width="1.35" fill="#fff"/>
<line x1="377.5" y1="193.0" x2="377.5" y2="243.5" stroke="#7c7c7c" stroke-width="0.65" fill="none"/>
<line x1="358.4" y1="203.9" x2="374.0" y2="203.9" stroke="#0a0a0a" stroke-width="1.35" fill="none"/>
<path d="M389.4 192.7 H420.2 V239.6 L416.7 246 L412 252.9 H389.4 Z" stroke="#0a0a0a" stroke-width="1.35" fill="#fff"/>
<rect x="416.7" y="193.2" width="3.5" height="46.4" rx="0" fill="#999" stroke="none"/>
<line x1="416.7" y1="192.7" x2="416.7" y2="246.0" stroke="#1c1c1c" stroke-width="0.9" fill="none"/>
<line x1="393.6" y1="192.7" x2="393.6" y2="252.9" stroke="#0a0a0a" stroke-width="1.35" fill="none"/>
<path d="M393.6 194.1 H413 Q415.3 194.1 415.3 196.89999999999998 Q415.3 199.7 413 199.7 H393.6" stroke="#0a0a0a" stroke-width="1.35" fill="none"/>
<line x1="395.0" y1="195.7" x2="413.0" y2="195.7" stroke="#7c7c7c" stroke-width="0.65" fill="none"/>
<path d="M393.6 229.8 H413 Q415.3 229.8 415.3 232.60000000000002 Q415.3 235.4 413 235.4 H393.6" stroke="#0a0a0a" stroke-width="1.35" fill="none"/>
<line x1="395.0" y1="231.4" x2="413.0" y2="231.4" stroke="#7c7c7c" stroke-width="0.65" fill="none"/>
<path d="M393.6 248 H413 Q415.3 248 415.3 250.45 Q415.3 252.9 413 252.9 H393.6" stroke="#0a0a0a" stroke-width="1.35" fill="none"/>
<line x1="395.0" y1="249.6" x2="413.0" y2="249.6" stroke="#7c7c7c" stroke-width="0.65" fill="none"/>
<path d="M338.8 203.9 L341.6 200.4 L385 175.6 H442 Q446.1 175.6 446.1 179.7 V217 Q446.1 220 443 220 H428 V196.9 H420.2 V192 H380.8 L358.4 203.9 Z" stroke="#0a0a0a" stroke-width="1.35" fill="#fff"/>
<line x1="380.8" y1="192.0" x2="444.0" y2="192.0" stroke="#0a0a0a" stroke-width="1.35" fill="none"/>
<path d="M345.0 201.5 L381.2 187.8 L445.0 187.8" stroke="#7c7c7c" stroke-width="0.65" fill="none"/>
<line x1="428.6" y1="175.6" x2="428.6" y2="192.0" stroke="#7c7c7c" stroke-width="0.65" fill="none"/>
<path d="M428 199.9 Q428 196.9 431 196.9 H440.7 Q443.7 196.9 443.7 199.9 V220" stroke="#0a0a0a" stroke-width="1.35" fill="none"/>
<circle cx="433.1" cy="203.2" r="3.3" stroke="#0a0a0a" stroke-width="1.35" fill="#fff"/>
<circle cx="433.1" cy="203.2" r="4.6" stroke="#7c7c7c" stroke-width="0.65" fill="none"/>
<path d="M420.2 211 H438 Q439.4 212.3 438 213.6 H420.2" stroke="#0a0a0a" stroke-width="1.35" fill="none"/>
<rect x="428.6" y="220.0" width="4.9" height="5.6" rx="0.8" stroke="#0a0a0a" stroke-width="1.35" fill="#fff"/>
<rect x="433.5" y="220.0" width="7.5" height="3.6" rx="0.8" stroke="#1c1c1c" stroke-width="0.9" fill="#fff"/>
<line x1="420.2" y1="196.9" x2="420.2" y2="220.0" stroke="#0a0a0a" stroke-width="1.35" fill="none"/>
<line x1="420.2" y1="220.0" x2="428.0" y2="220.0" stroke="#0a0a0a" stroke-width="1.35" fill="none"/>
<path d="M294 308.1 H445.6 L447.4 385 H292.2 Z" stroke="#0a0a0a" stroke-width="1.35" fill="#fff"/>
<line x1="304.5" y1="308.1" x2="304.0" y2="385.0" stroke="#7c7c7c" stroke-width="0.65" fill="none"/>
<line x1="409.6" y1="308.1" x2="410.0" y2="385.0" stroke="#7c7c7c" stroke-width="0.65" fill="none"/>
<line x1="442.0" y1="308.1" x2="443.5" y2="385.0" stroke="#7c7c7c" stroke-width="0.65" fill="none"/>
<line x1="317.6" y1="308.1" x2="318.7" y2="369.0" stroke="#0a0a0a" stroke-width="1.35" fill="none"/>
<line x1="321.0" y1="308.1" x2="322.0" y2="369.0" stroke="#7c7c7c" stroke-width="0.65" fill="none"/>
<line x1="340.3" y1="308.1" x2="340.3" y2="369.0" stroke="#1c1c1c" stroke-width="0.9" fill="none"/>
<line x1="343.0" y1="308.1" x2="343.0" y2="385.0" stroke="#7c7c7c" stroke-width="0.65" fill="none"/>
<rect x="326.6" y="306" width="8.8" height="82" fill="#fff"/>
<path d="M326.6 306 V388 M335.4 306 V388" stroke="#0a0a0a" stroke-width="1.35" fill="none"/>
<line x1="327.1" y1="313.5" x2="334.9" y2="311.6" stroke="#0a0a0a" stroke-width="1.7" stroke-linecap="butt"/>
<line x1="327.1" y1="317.6" x2="334.9" y2="315.7" stroke="#0a0a0a" stroke-width="1.7" stroke-linecap="butt"/>
<line x1="327.1" y1="323.7" x2="334.9" y2="321.8" stroke="#0a0a0a" stroke-width="1.7" stroke-linecap="butt"/>
<line x1="327.1" y1="327.8" x2="334.9" y2="325.9" stroke="#0a0a0a" stroke-width="1.7" stroke-linecap="butt"/>
<line x1="327.1" y1="333.9" x2="334.9" y2="332.0" stroke="#0a0a0a" stroke-width="1.7" stroke-linecap="butt"/>
<line x1="327.1" y1="338.0" x2="334.9" y2="336.1" stroke="#0a0a0a" stroke-width="1.7" stroke-linecap="butt"/>
<line x1="327.1" y1="344.1" x2="334.9" y2="342.2" stroke="#0a0a0a" stroke-width="1.7" stroke-linecap="butt"/>
<line x1="327.1" y1="348.2" x2="334.9" y2="346.3" stroke="#0a0a0a" stroke-width="1.7" stroke-linecap="butt"/>
<line x1="327.1" y1="354.3" x2="334.9" y2="352.4" stroke="#0a0a0a" stroke-width="1.7" stroke-linecap="butt"/>
<line x1="327.1" y1="358.4" x2="334.9" y2="356.5" stroke="#0a0a0a" stroke-width="1.7" stroke-linecap="butt"/>
<line x1="327.1" y1="364.5" x2="334.9" y2="362.6" stroke="#0a0a0a" stroke-width="1.7" stroke-linecap="butt"/>
<line x1="327.1" y1="368.6" x2="334.9" y2="366.7" stroke="#0a0a0a" stroke-width="1.7" stroke-linecap="butt"/>
<line x1="327.1" y1="374.7" x2="334.9" y2="372.8" stroke="#0a0a0a" stroke-width="1.7" stroke-linecap="butt"/>
<line x1="327.1" y1="378.8" x2="334.9" y2="376.9" stroke="#0a0a0a" stroke-width="1.7" stroke-linecap="butt"/>
<line x1="327.1" y1="384.9" x2="334.9" y2="383.0" stroke="#0a0a0a" stroke-width="1.7" stroke-linecap="butt"/>
<path d="M318.7 369 H324.5 V374 H322.5 V385 M318.7 369 V385" stroke="#0a0a0a" stroke-width="1.35" fill="none"/>
<path d="M340.3 369 H335.2 V380 H337.4 V385 M340.3 369 V385" stroke="#0a0a0a" stroke-width="1.35" fill="none"/>
<line x1="186.0" y1="214.4" x2="452.0" y2="214.4" stroke="#8c8c8c" stroke-width="0.7" fill="none" stroke-dasharray="22 2.5 3 2.5" stroke-linecap="butt"/>
<line x1="350.3" y1="192.0" x2="350.3" y2="623.0" stroke="#8c8c8c" stroke-width="0.7" fill="none" stroke-dasharray="38 2.5 3 2.5" stroke-linecap="butt"/>
<line x1="207.6" y1="147.3" x2="207.6" y2="195.6" stroke="#6e6e6e" stroke-width="0.8" fill="none"/>
<line x1="445.4" y1="147.0" x2="445.4" y2="175.2" stroke="#6e6e6e" stroke-width="0.8" fill="none"/>
<line x1="207.6" y1="151.5" x2="445.4" y2="151.5" stroke="#6e6e6e" stroke-width="0.8" fill="none"/>
<polygon points="207.6,151.5 216.1,150.0 216.1,153.0" fill="#222"/>
<polygon points="445.4,151.5 436.9,153.0 436.9,150.0" fill="#222"/>
<text transform="translate(325.4 144.4) skewX(-15) scale(0.66 1)" font-size="20.5" font-weight="normal" text-anchor="middle" fill="#222">123</text>
<line x1="292.7" y1="368.8" x2="447.0" y2="368.8" stroke="#6e6e6e" stroke-width="0.8" fill="none"/>
<polygon points="292.7,368.8 301.2,367.3 301.2,370.3" fill="#222"/>
<polygon points="447.0,368.8 438.5,370.3 438.5,367.3" fill="#222"/>
<text transform="translate(368.4 361.3) skewX(-15) scale(0.87 1)" font-size="19.4" font-weight="normal" text-anchor="middle" fill="#222">80</text>
<line x1="445.0" y1="175.3" x2="488.0" y2="175.3" stroke="#6e6e6e" stroke-width="0.8" fill="none"/>
<line x1="376.0" y1="618.8" x2="488.0" y2="618.8" stroke="#6e6e6e" stroke-width="0.8" fill="none"/>
<line x1="484.0" y1="175.3" x2="484.0" y2="618.8" stroke="#6e6e6e" stroke-width="0.8" fill="none"/>
<polygon points="484.0,175.3 485.5,183.8 482.5,183.8" fill="#222"/>
<polygon points="484.0,618.8 482.5,610.3 485.5,610.3" fill="#222"/>
<text transform="translate(477.7 398.0) rotate(-90) skewX(-15) scale(0.8 1)" font-size="21.5" font-weight="normal" text-anchor="middle" fill="#222">230</text>
<line x1="182.8" y1="127.0" x2="182.8" y2="234.9" stroke="#6e6e6e" stroke-width="0.8" fill="none"/>
<polygon points="182.8,194.0 184.3,202.5 181.3,202.5" fill="#222"/>
<polygon points="182.8,234.9 181.3,226.4 184.3,226.4" fill="#222"/>
<line x1="178.9" y1="194.0" x2="211.8" y2="194.0" stroke="#6e6e6e" stroke-width="0.8" fill="none"/>
<line x1="178.9" y1="234.9" x2="211.0" y2="234.9" stroke="#6e6e6e" stroke-width="0.8" fill="none"/>
<text transform="translate(176.7 155.9) rotate(-90) skewX(-15) scale(0.85 1)" font-size="21.5" font-weight="normal" text-anchor="middle" fill="#222">G 1/2</text>
</g>
<g id="d3">
<rect x="582.2" y="218.0" width="9.6" height="47.0" rx="0" stroke="#1c1c1c" stroke-width="0.9" fill="#fff"/>
<rect x="581.2" y="264.5" width="11.0" height="269.9" rx="0" stroke="#0a0a0a" stroke-width="1.3" fill="#fff"/>
<line x1="582.0" y1="266.5" x2="591.4" y2="266.5" stroke="#0a0a0a" stroke-width="1.25"/>
<line x1="582.0" y1="270.6" x2="591.4" y2="270.6" stroke="#0a0a0a" stroke-width="1.25"/>
<line x1="582.0" y1="274.6" x2="591.4" y2="274.6" stroke="#0a0a0a" stroke-width="1.25"/>
<line x1="582.0" y1="278.7" x2="591.4" y2="278.7" stroke="#0a0a0a" stroke-width="1.25"/>
<line x1="582.0" y1="282.7" x2="591.4" y2="282.7" stroke="#0a0a0a" stroke-width="1.25"/>
<line x1="582.0" y1="286.8" x2="591.4" y2="286.8" stroke="#0a0a0a" stroke-width="1.25"/>
<line x1="582.0" y1="290.9" x2="591.4" y2="290.9" stroke="#0a0a0a" stroke-width="1.25"/>
<line x1="582.0" y1="294.9" x2="591.4" y2="294.9" stroke="#0a0a0a" stroke-width="1.25"/>
<line x1="582.0" y1="299.0" x2="591.4" y2="299.0" stroke="#0a0a0a" stroke-width="1.25"/>
<line x1="582.0" y1="303.0" x2="591.4" y2="303.0" stroke="#0a0a0a" stroke-width="1.25"/>
<line x1="582.0" y1="307.1" x2="591.4" y2="307.1" stroke="#0a0a0a" stroke-width="1.25"/>
<line x1="582.0" y1="311.2" x2="591.4" y2="311.2" stroke="#0a0a0a" stroke-width="1.25"/>
<line x1="582.0" y1="315.2" x2="591.4" y2="315.2" stroke="#0a0a0a" stroke-width="1.25"/>
<line x1="582.0" y1="319.3" x2="591.4" y2="319.3" stroke="#0a0a0a" stroke-width="1.25"/>
<line x1="582.0" y1="323.3" x2="591.4" y2="323.3" stroke="#0a0a0a" stroke-width="1.25"/>
<line x1="582.0" y1="327.4" x2="591.4" y2="327.4" stroke="#0a0a0a" stroke-width="1.25"/>
<line x1="582.0" y1="331.5" x2="591.4" y2="331.5" stroke="#0a0a0a" stroke-width="1.25"/>
<line x1="582.0" y1="335.5" x2="591.4" y2="335.5" stroke="#0a0a0a" stroke-width="1.25"/>
<line x1="582.0" y1="339.6" x2="591.4" y2="339.6" stroke="#0a0a0a" stroke-width="1.25"/>
<line x1="582.0" y1="343.6" x2="591.4" y2="343.6" stroke="#0a0a0a" stroke-width="1.25"/>
<line x1="582.0" y1="347.7" x2="591.4" y2="347.7" stroke="#0a0a0a" stroke-width="1.25"/>
<line x1="582.0" y1="351.8" x2="591.4" y2="351.8" stroke="#0a0a0a" stroke-width="1.25"/>
<line x1="582.0" y1="355.8" x2="591.4" y2="355.8" stroke="#0a0a0a" stroke-width="1.25"/>
<line x1="582.0" y1="359.9" x2="591.4" y2="359.9" stroke="#0a0a0a" stroke-width="1.25"/>
<line x1="582.0" y1="363.9" x2="591.4" y2="363.9" stroke="#0a0a0a" stroke-width="1.25"/>
<line x1="582.0" y1="368.0" x2="591.4" y2="368.0" stroke="#0a0a0a" stroke-width="1.25"/>
<line x1="582.0" y1="372.1" x2="591.4" y2="372.1" stroke="#0a0a0a" stroke-width="1.25"/>
<line x1="582.0" y1="376.1" x2="591.4" y2="376.1" stroke="#0a0a0a" stroke-width="1.25"/>
<line x1="582.0" y1="380.2" x2="591.4" y2="380.2" stroke="#0a0a0a" stroke-width="1.25"/>
<line x1="582.0" y1="384.2" x2="591.4" y2="384.2" stroke="#0a0a0a" stroke-width="1.25"/>
<line x1="582.0" y1="388.3" x2="591.4" y2="388.3" stroke="#0a0a0a" stroke-width="1.25"/>
<line x1="582.0" y1="392.4" x2="591.4" y2="392.4" stroke="#0a0a0a" stroke-width="1.25"/>
<line x1="582.0" y1="396.4" x2="591.4" y2="396.4" stroke="#0a0a0a" stroke-width="1.25"/>
<line x1="582.0" y1="400.5" x2="591.4" y2="400.5" stroke="#0a0a0a" stroke-width="1.25"/>
<line x1="582.0" y1="404.5" x2="591.4" y2="404.5" stroke="#0a0a0a" stroke-width="1.25"/>
<line x1="582.0" y1="408.6" x2="591.4" y2="408.6" stroke="#0a0a0a" stroke-width="1.25"/>
<line x1="582.0" y1="412.7" x2="591.4" y2="412.7" stroke="#0a0a0a" stroke-width="1.25"/>
<line x1="582.0" y1="416.7" x2="591.4" y2="416.7" stroke="#0a0a0a" stroke-width="1.25"/>
<line x1="582.0" y1="420.8" x2="591.4" y2="420.8" stroke="#0a0a0a" stroke-width="1.25"/>
<line x1="582.0" y1="424.8" x2="591.4" y2="424.8" stroke="#0a0a0a" stroke-width="1.25"/>
<line x1="582.0" y1="428.9" x2="591.4" y2="428.9" stroke="#0a0a0a" stroke-width="1.25"/>
<line x1="582.0" y1="433.0" x2="591.4" y2="433.0" stroke="#0a0a0a" stroke-width="1.25"/>
<line x1="582.0" y1="437.0" x2="591.4" y2="437.0" stroke="#0a0a0a" stroke-width="1.25"/>
<line x1="582.0" y1="441.1" x2="591.4" y2="441.1" stroke="#0a0a0a" stroke-width="1.25"/>
<line x1="582.0" y1="445.1" x2="591.4" y2="445.1" stroke="#0a0a0a" stroke-width="1.25"/>
<line x1="582.0" y1="449.2" x2="591.4" y2="449.2" stroke="#0a0a0a" stroke-width="1.25"/>
<line x1="582.0" y1="453.3" x2="591.4" y2="453.3" stroke="#0a0a0a" stroke-width="1.25"/>
<line x1="582.0" y1="457.3" x2="591.4" y2="457.3" stroke="#0a0a0a" stroke-width="1.25"/>
<line x1="582.0" y1="461.4" x2="591.4" y2="461.4" stroke="#0a0a0a" stroke-width="1.25"/>
<line x1="582.0" y1="465.4" x2="591.4" y2="465.4" stroke="#0a0a0a" stroke-width="1.25"/>
<line x1="582.0" y1="469.5" x2="591.4" y2="469.5" stroke="#0a0a0a" stroke-width="1.25"/>
<line x1="582.0" y1="473.6" x2="591.4" y2="473.6" stroke="#0a0a0a" stroke-width="1.25"/>
<line x1="582.0" y1="477.6" x2="591.4" y2="477.6" stroke="#0a0a0a" stroke-width="1.25"/>
<line x1="582.0" y1="481.7" x2="591.4" y2="481.7" stroke="#0a0a0a" stroke-width="1.25"/>
<line x1="582.0" y1="485.7" x2="591.4" y2="485.7" stroke="#0a0a0a" stroke-width="1.25"/>
<line x1="582.0" y1="489.8" x2="591.4" y2="489.8" stroke="#0a0a0a" stroke-width="1.25"/>
<line x1="582.0" y1="493.9" x2="591.4" y2="493.9" stroke="#0a0a0a" stroke-width="1.25"/>
<line x1="582.0" y1="497.9" x2="591.4" y2="497.9" stroke="#0a0a0a" stroke-width="1.25"/>
<line x1="582.0" y1="502.0" x2="591.4" y2="502.0" stroke="#0a0a0a" stroke-width="1.25"/>
<line x1="582.0" y1="506.0" x2="591.4" y2="506.0" stroke="#0a0a0a" stroke-width="1.25"/>
<line x1="582.0" y1="510.1" x2="591.4" y2="510.1" stroke="#0a0a0a" stroke-width="1.25"/>
<line x1="582.0" y1="514.2" x2="591.4" y2="514.2" stroke="#0a0a0a" stroke-width="1.25"/>
<line x1="582.0" y1="518.2" x2="591.4" y2="518.2" stroke="#0a0a0a" stroke-width="1.25"/>
<line x1="582.0" y1="522.3" x2="591.4" y2="522.3" stroke="#0a0a0a" stroke-width="1.25"/>
<line x1="582.0" y1="526.3" x2="591.4" y2="526.3" stroke="#0a0a0a" stroke-width="1.25"/>
<line x1="582.0" y1="530.4" x2="591.4" y2="530.4" stroke="#0a0a0a" stroke-width="1.25"/>
<path d="M581.6 219 V200 Q581.6 196.8 586.7 196.8 Q592 196.8 592 200 V219 Z" stroke="#0a0a0a" stroke-width="1.35" fill="#fff"/>
<path d="M581.6 215 Q574.5 212.5 572.6 201.5 Q571.8 197 575.6 196.8 Q579.6 196.8 581.6 204" stroke="#0a0a0a" stroke-width="1.35" fill="#fff"/>
<path d="M574 207.5 Q578 207.8 581.6 206" stroke="#1c1c1c" stroke-width="0.9" fill="none"/>
<path d="M592 199.5 L590.6 193.8 Q592 190.8 595.2 191.2 Q597.6 192 599 199.5 Q600.6 208.8 592 215" stroke="#0a0a0a" stroke-width="1.35" fill="#fff"/>
<path d="M592 203 Q596 202.5 599.4 201" stroke="#1c1c1c" stroke-width="0.9" fill="none"/>
<path d="M581 219 H592.6 V222.8 H581 Z" stroke="#1c1c1c" stroke-width="0.9" fill="#fff"/>
<line x1="582.0" y1="220.6" x2="591.8" y2="220.6" stroke="#7c7c7c" stroke-width="0.65" fill="none"/>
<path d="M599.0 195.0 L640.0 184.0 L640.0 192.2 L600.0 205.0 Z" stroke="#0a0a0a" stroke-width="1.35" fill="#fff"/>
<path d="M600.0 198.6 L640.0 187.2 L640.0 190.0 L600.4 202.0 Z" fill="#555" stroke="#0a0a0a" stroke-width="0.7"/>
<rect x="633.4" y="147.0" width="16.6" height="18.1" rx="0" stroke="#0a0a0a" stroke-width="1.35" fill="#fff"/>
<line x1="633.4" y1="162.4" x2="650.0" y2="162.4" stroke="#7c7c7c" stroke-width="0.65" fill="none"/>
<rect x="690.9" y="147.0" width="17.6" height="18.1" rx="0" stroke="#0a0a0a" stroke-width="1.35" fill="#fff"/>
<line x1="690.9" y1="162.4" x2="708.5" y2="162.4" stroke="#7c7c7c" stroke-width="0.65" fill="none"/>
<rect x="690.9" y="165.1" width="2.6" height="34.2" rx="0" stroke="#1c1c1c" stroke-width="0.9" fill="#fff"/>
<path d="M637.5 248 Q638 262 649 269.5 H693.5 Q703.5 262 704 248 Z" stroke="#0a0a0a" stroke-width="1.35" fill="#fff"/>
<line x1="638.0" y1="251.0" x2="703.5" y2="251.0" stroke="#7c7c7c" stroke-width="0.65" fill="none"/>
<line x1="639.5" y1="257.5" x2="702.0" y2="257.5" stroke="#7c7c7c" stroke-width="0.65" fill="none"/>
<line x1="645.5" y1="266.5" x2="697.0" y2="266.5" stroke="#7c7c7c" stroke-width="0.65" fill="none"/>
<rect x="635.5" y="244.3" width="70.5" height="3.7" rx="1.6" stroke="#0a0a0a" stroke-width="1.35" fill="#fff"/>
<rect x="649.0" y="269.5" width="44.5" height="2.5" rx="0" stroke="#1c1c1c" stroke-width="0.9" fill="#fff"/>
<rect x="650.5" y="272.0" width="7.3" height="64.2" rx="0" stroke="#1c1c1c" stroke-width="0.9" fill="#fff"/>
<rect x="684.0" y="272.0" width="7.0" height="64.2" rx="0" stroke="#1c1c1c" stroke-width="0.9" fill="#fff"/>
<line x1="650.5" y1="296.0" x2="657.8" y2="296.0" stroke="#222" stroke-width="1.6"/>
<line x1="684.0" y1="296.0" x2="691.0" y2="296.0" stroke="#222" stroke-width="1.6"/>
<line x1="650.5" y1="298.0" x2="657.8" y2="298.0" stroke="#7c7c7c" stroke-width="0.65" fill="none"/>
<line x1="684.0" y1="298.0" x2="691.0" y2="298.0" stroke="#7c7c7c" stroke-width="0.65" fill="none"/>
<line x1="650.5" y1="304.0" x2="657.8" y2="304.0" stroke="#222" stroke-width="1.6"/>
<line x1="684.0" y1="304.0" x2="691.0" y2="304.0" stroke="#222" stroke-width="1.6"/>
<line x1="650.5" y1="306.0" x2="657.8" y2="306.0" stroke="#7c7c7c" stroke-width="0.65" fill="none"/>
<line x1="684.0" y1="306.0" x2="691.0" y2="306.0" stroke="#7c7c7c" stroke-width="0.65" fill="none"/>
<line x1="650.5" y1="312.0" x2="657.8" y2="312.0" stroke="#222" stroke-width="1.6"/>
<line x1="684.0" y1="312.0" x2="691.0" y2="312.0" stroke="#222" stroke-width="1.6"/>
<line x1="650.5" y1="314.0" x2="657.8" y2="314.0" stroke="#7c7c7c" stroke-width="0.65" fill="none"/>
<line x1="684.0" y1="314.0" x2="691.0" y2="314.0" stroke="#7c7c7c" stroke-width="0.65" fill="none"/>
<line x1="650.5" y1="320.0" x2="657.8" y2="320.0" stroke="#222" stroke-width="1.6"/>
<line x1="684.0" y1="320.0" x2="691.0" y2="320.0" stroke="#222" stroke-width="1.6"/>
<line x1="650.5" y1="322.0" x2="657.8" y2="322.0" stroke="#7c7c7c" stroke-width="0.65" fill="none"/>
<line x1="684.0" y1="322.0" x2="691.0" y2="322.0" stroke="#7c7c7c" stroke-width="0.65" fill="none"/>
<line x1="650.5" y1="328.0" x2="657.8" y2="328.0" stroke="#222" stroke-width="1.6"/>
<line x1="684.0" y1="328.0" x2="691.0" y2="328.0" stroke="#222" stroke-width="1.6"/>
<line x1="650.5" y1="330.0" x2="657.8" y2="330.0" stroke="#7c7c7c" stroke-width="0.65" fill="none"/>
<line x1="684.0" y1="330.0" x2="691.0" y2="330.0" stroke="#7c7c7c" stroke-width="0.65" fill="none"/>
<path d="M578.5 278.0 L647.0 272.2 L649.0 285.0 L578.5 279.8 Z" stroke="#0a0a0a" stroke-width="1.35" fill="#fff"/>
<rect x="577.5" y="277.8" width="16.0" height="2.2" rx="1.1" stroke="#0a0a0a" stroke-width="1" fill="#fff"/>
<rect x="646.5" y="277.8" width="11.5" height="2.4" rx="1.2" stroke="#0a0a0a" stroke-width="1" fill="#fff"/>
<rect x="647.5" y="285.3" width="10.5" height="2.4" rx="1.2" stroke="#0a0a0a" stroke-width="1" fill="#fff"/>
<rect x="684.0" y="277.4" width="4.8" height="2.4" rx="1.2" stroke="#0a0a0a" stroke-width="1" fill="#fff"/>
<rect x="684.0" y="285.3" width="10.6" height="2.4" rx="1.2" stroke="#0a0a0a" stroke-width="1" fill="#fff"/>
<path d="M651.4 147 V207 C651.4 224 658.4 226 658.4 242 V304 H684 V242 C684 226 690 224 690 207 V147 Z" stroke="#0a0a0a" stroke-width="1.35" fill="#fff"/>
<line x1="651.8" y1="170.5" x2="689.6" y2="170.5" stroke="#7c7c7c" stroke-width="0.65" fill="none"/>
<line x1="651.8" y1="178.6" x2="689.6" y2="178.6" stroke="#7c7c7c" stroke-width="0.65" fill="none"/>
<line x1="651.8" y1="193.9" x2="689.6" y2="193.9" stroke="#7c7c7c" stroke-width="0.65" fill="none"/>
<line x1="651.8" y1="202.0" x2="689.6" y2="202.0" stroke="#7c7c7c" stroke-width="0.65" fill="none"/>
<line x1="670.8" y1="134.4" x2="670.8" y2="303.8" stroke="#0a0a0a" stroke-width="1.35" fill="none"/>
<path d="M648 165.5 V174 L642 179.5 L640.5 193 Q645 195 651 194.4" stroke="#0a0a0a" stroke-width="1.35" fill="#fff"/>
<circle cx="648.0" cy="187.0" r="2.6" stroke="#0a0a0a" stroke-width="1.35" fill="#fff"/>
<rect x="616.6" y="134.4" width="108.5" height="12.6" rx="1.6" stroke="#0a0a0a" stroke-width="1.35" fill="#fff"/>
<line x1="633.6" y1="135.0" x2="633.6" y2="146.5" stroke="#7c7c7c" stroke-width="0.65" fill="none"/>
<line x1="640.6" y1="135.0" x2="640.6" y2="146.5" stroke="#7c7c7c" stroke-width="0.65" fill="none"/>
<line x1="700.8" y1="135.0" x2="700.8" y2="146.5" stroke="#7c7c7c" stroke-width="0.65" fill="none"/>
<line x1="707.8" y1="135.0" x2="707.8" y2="146.5" stroke="#7c7c7c" stroke-width="0.65" fill="none"/>
<path d="M653.9 134.4 V112.2 Q653.9 110.2 655.9 110.2 H685.9 Q687.9 110.2 687.9 112.2 V134.4" stroke="#0a0a0a" stroke-width="1.35" fill="#fff"/>
<rect x="657.4" y="101.1" width="26.3" height="9.1" rx="1" fill="#ddd" stroke="#0a0a0a" stroke-width="1"/>
<line x1="658.0" y1="103.7" x2="683.2" y2="102.7" stroke="#111" stroke-width="1.9" stroke-linecap="butt"/>
<line x1="658.0" y1="106.2" x2="683.2" y2="105.2" stroke="#111" stroke-width="1.9" stroke-linecap="butt"/>
<line x1="658.0" y1="108.7" x2="683.2" y2="107.7" stroke="#111" stroke-width="1.9" stroke-linecap="butt"/>
<path d="M640.6 70.7 V98 Q640.6 101.1 643.7 101.1 H697.4 Q700.5 101.1 700.5 98 V70.7 Z" stroke="#0a0a0a" stroke-width="1.35" fill="#fff"/>
<line x1="642.0" y1="97.6" x2="699.0" y2="97.6" stroke="#7c7c7c" stroke-width="0.65" fill="none"/>
<path d="M635.5 70.7 Q632.3 70.7 632.6 68 Q633 65.7 637 65.2 Q670.8 61.6 704.6 65.2 Q708.6 65.7 709 68 Q709.3 70.7 706 70.7 Z" stroke="#0a0a0a" stroke-width="1.35" fill="#fff"/>
<path d="M646 64.2 Q670.8 59.4 695.6 64.2" stroke="#0a0a0a" stroke-width="1.35" fill="none"/>
<line x1="670.8" y1="57.0" x2="670.8" y2="134.4" stroke="#7c7c7c" stroke-width="0.65" fill="none"/>
<path d="M611.6 366 L612.6 495 Q612.6 498.4 616.4 498.4 H724.4 Q728.6 498.4 728.8 495 L730.6 366" stroke="#0a0a0a" stroke-width="1.35" fill="#fff"/>
<line x1="613.5" y1="496.0" x2="728.0" y2="496.0" stroke="#7c7c7c" stroke-width="0.65" fill="none"/>
<path d="M616.4 498.4 V515.2 M724.4 498.4 V515.2" stroke="#0a0a0a" stroke-width="1.35" fill="none"/>
<rect x="606.8" y="362.4" width="128.0" height="3.2" rx="1.6" stroke="#0a0a0a" stroke-width="1" fill="#b8b8b8"/>
<rect x="606.8" y="371.1" width="128.0" height="3.0" rx="1.5" stroke="#0a0a0a" stroke-width="1" fill="#b8b8b8"/>
<rect x="658.6" y="303.8" width="25.6" height="222.2" rx="0" stroke="#0a0a0a" stroke-width="1.35" fill="#fff"/>
<path d="M658.6 520 V523.6 Q658.6 530.4 665.4 530.4 H677.4 Q684.2 530.4 684.2 523.6 V520" stroke="#0a0a0a" stroke-width="1.35" fill="#fff"/>
<rect x="659.4" y="518" width="24" height="9" fill="#fff"/>
<line x1="671.4" y1="518.0" x2="671.4" y2="530.0" stroke="#7c7c7c" stroke-width="0.65" fill="none"/>
<rect x="660.2" y="321.8" width="14.8" height="2.9" rx="1.45" stroke="#0a0a0a" stroke-width="1" fill="#b8b8b8"/>
<rect x="660.2" y="329.9" width="14.8" height="2.9" rx="1.45" stroke="#0a0a0a" stroke-width="1" fill="#b8b8b8"/>
<rect x="660.2" y="338.0" width="14.8" height="2.9" rx="1.45" stroke="#0a0a0a" stroke-width="1" fill="#b8b8b8"/>
<rect x="660.2" y="346.1" width="14.8" height="2.9" rx="1.45" stroke="#0a0a0a" stroke-width="1" fill="#b8b8b8"/>
<rect x="660.2" y="354.2" width="14.8" height="2.9" rx="1.45" stroke="#0a0a0a" stroke-width="1" fill="#b8b8b8"/>
<rect x="660.2" y="362.3" width="14.8" height="2.9" rx="1.45" stroke="#0a0a0a" stroke-width="1" fill="#b8b8b8"/>
<rect x="660.2" y="370.4" width="14.8" height="2.9" rx="1.45" stroke="#0a0a0a" stroke-width="1" fill="#b8b8b8"/>
<rect x="660.2" y="378.6" width="14.8" height="2.9" rx="1.45" stroke="#0a0a0a" stroke-width="1" fill="#b8b8b8"/>
<rect x="660.2" y="386.7" width="14.8" height="2.9" rx="1.45" stroke="#0a0a0a" stroke-width="1" fill="#b8b8b8"/>
<rect x="660.2" y="394.8" width="14.8" height="2.9" rx="1.45" stroke="#0a0a0a" stroke-width="1" fill="#b8b8b8"/>
<rect x="660.2" y="402.9" width="14.8" height="2.9" rx="1.45" stroke="#0a0a0a" stroke-width="1" fill="#b8b8b8"/>
<rect x="660.2" y="411.0" width="14.8" height="2.9" rx="1.45" stroke="#0a0a0a" stroke-width="1" fill="#b8b8b8"/>
<rect x="660.2" y="419.1" width="14.8" height="2.9" rx="1.45" stroke="#0a0a0a" stroke-width="1" fill="#b8b8b8"/>
<rect x="660.2" y="427.2" width="14.8" height="2.9" rx="1.45" stroke="#0a0a0a" stroke-width="1" fill="#b8b8b8"/>
<rect x="660.2" y="435.4" width="14.8" height="2.9" rx="1.45" stroke="#0a0a0a" stroke-width="1" fill="#b8b8b8"/>
<rect x="660.2" y="443.5" width="14.8" height="2.9" rx="1.45" stroke="#0a0a0a" stroke-width="1" fill="#b8b8b8"/>
<rect x="660.2" y="451.6" width="14.8" height="2.9" rx="1.45" stroke="#0a0a0a" stroke-width="1" fill="#b8b8b8"/>
<rect x="660.2" y="459.7" width="14.8" height="2.9" rx="1.45" stroke="#0a0a0a" stroke-width="1" fill="#b8b8b8"/>
<rect x="660.2" y="467.8" width="14.8" height="2.9" rx="1.45" stroke="#0a0a0a" stroke-width="1" fill="#b8b8b8"/>
<rect x="660.2" y="475.9" width="14.8" height="2.9" rx="1.45" stroke="#0a0a0a" stroke-width="1" fill="#b8b8b8"/>
<rect x="660.2" y="484.1" width="14.8" height="2.9" rx="1.45" stroke="#0a0a0a" stroke-width="1" fill="#b8b8b8"/>
<rect x="660.2" y="492.2" width="14.8" height="2.9" rx="1.45" stroke="#0a0a0a" stroke-width="1" fill="#b8b8b8"/>
<rect x="660.2" y="500.3" width="14.8" height="2.9" rx="1.45" stroke="#0a0a0a" stroke-width="1" fill="#b8b8b8"/>
<rect x="660.2" y="508.4" width="14.8" height="2.9" rx="1.45" stroke="#0a0a0a" stroke-width="1" fill="#b8b8b8"/>
<rect x="660.2" y="516.5" width="14.8" height="2.9" rx="1.45" stroke="#0a0a0a" stroke-width="1" fill="#b8b8b8"/>
<text x="679.6" y="313.2" font-size="9.2" font-weight="bold" text-anchor="middle" fill="#0a0a0a" stroke="#0a0a0a" stroke-width="0.35" textLength="4.4" lengthAdjust="spacingAndGlyphs">1</text>
<text x="679.6" y="321.3" font-size="9.2" font-weight="bold" text-anchor="middle" fill="#0a0a0a" stroke="#0a0a0a" stroke-width="0.35" textLength="4.4" lengthAdjust="spacingAndGlyphs">2</text>
<text x="679.6" y="329.4" font-size="9.2" font-weight="bold" text-anchor="middle" fill="#0a0a0a" stroke="#0a0a0a" stroke-width="0.35" textLength="4.4" lengthAdjust="spacingAndGlyphs">3</text>
<text x="679.6" y="337.5" font-size="9.2" font-weight="bold" text-anchor="middle" fill="#0a0a0a" stroke="#0a0a0a" stroke-width="0.35" textLength="4.4" lengthAdjust="spacingAndGlyphs">4</text>
<text x="679.6" y="345.6" font-size="9.2" font-weight="bold" text-anchor="middle" fill="#0a0a0a" stroke="#0a0a0a" stroke-width="0.35" textLength="4.4" lengthAdjust="spacingAndGlyphs">5</text>
<text x="679.6" y="353.7" font-size="9.2" font-weight="bold" text-anchor="middle" fill="#0a0a0a" stroke="#0a0a0a" stroke-width="0.35" textLength="4.4" lengthAdjust="spacingAndGlyphs">6</text>
<text x="679.6" y="361.8" font-size="9.2" font-weight="bold" text-anchor="middle" fill="#0a0a0a" stroke="#0a0a0a" stroke-width="0.35" textLength="4.4" lengthAdjust="spacingAndGlyphs">7</text>
<text x="679.6" y="402.4" font-size="9.2" font-weight="bold" text-anchor="middle" fill="#0a0a0a" stroke="#0a0a0a" stroke-width="0.35" textLength="7.6" lengthAdjust="spacingAndGlyphs">12</text>
<text x="679.6" y="410.5" font-size="9.2" font-weight="bold" text-anchor="middle" fill="#0a0a0a" stroke="#0a0a0a" stroke-width="0.35" textLength="7.6" lengthAdjust="spacingAndGlyphs">13</text>
<text x="679.6" y="418.6" font-size="9.2" font-weight="bold" text-anchor="middle" fill="#0a0a0a" stroke="#0a0a0a" stroke-width="0.35" textLength="7.6" lengthAdjust="spacingAndGlyphs">14</text>
<text x="679.6" y="426.7" font-size="9.2" font-weight="bold" text-anchor="middle" fill="#0a0a0a" stroke="#0a0a0a" stroke-width="0.35" textLength="7.6" lengthAdjust="spacingAndGlyphs">15</text>
<text x="679.6" y="434.8" font-size="9.2" font-weight="bold" text-anchor="middle" fill="#0a0a0a" stroke="#0a0a0a" stroke-width="0.35" textLength="7.6" lengthAdjust="spacingAndGlyphs">16</text>
<text x="679.6" y="442.9" font-size="9.2" font-weight="bold" text-anchor="middle" fill="#0a0a0a" stroke="#0a0a0a" stroke-width="0.35" textLength="7.6" lengthAdjust="spacingAndGlyphs">17</text>
<text x="679.6" y="451.0" font-size="9.2" font-weight="bold" text-anchor="middle" fill="#0a0a0a" stroke="#0a0a0a" stroke-width="0.35" textLength="7.6" lengthAdjust="spacingAndGlyphs">18</text>
<text x="679.6" y="459.1" font-size="9.2" font-weight="bold" text-anchor="middle" fill="#0a0a0a" stroke="#0a0a0a" stroke-width="0.35" textLength="7.6" lengthAdjust="spacingAndGlyphs">19</text>
<text x="679.6" y="467.2" font-size="9.2" font-weight="bold" text-anchor="middle" fill="#0a0a0a" stroke="#0a0a0a" stroke-width="0.35" textLength="7.6" lengthAdjust="spacingAndGlyphs">20</text>
<text x="679.6" y="475.3" font-size="9.2" font-weight="bold" text-anchor="middle" fill="#0a0a0a" stroke="#0a0a0a" stroke-width="0.35" textLength="7.6" lengthAdjust="spacingAndGlyphs">21</text>
<text x="679.6" y="483.4" font-size="9.2" font-weight="bold" text-anchor="middle" fill="#0a0a0a" stroke="#0a0a0a" stroke-width="0.35" textLength="7.6" lengthAdjust="spacingAndGlyphs">22</text>
<text x="679.6" y="491.5" font-size="9.2" font-weight="bold" text-anchor="middle" fill="#0a0a0a" stroke="#0a0a0a" stroke-width="0.35" textLength="7.6" lengthAdjust="spacingAndGlyphs">23</text>
<text x="679.6" y="499.6" font-size="9.2" font-weight="bold" text-anchor="middle" fill="#0a0a0a" stroke="#0a0a0a" stroke-width="0.35" textLength="7.6" lengthAdjust="spacingAndGlyphs">24</text>
<path d="M657.5999999999999 357.6 H636.8 V354.4 H657.5999999999999 Z" stroke="#0a0a0a" stroke-width="1.35" fill="#fff"/>
<path d="M654.3 354.4 V337.5 H648.8 V340.5 H643.8 Q640.3 340.5 640.3 344 V354.4" stroke="#0a0a0a" stroke-width="1.35" fill="#fff"/>
<line x1="650.8" y1="340.5" x2="650.8" y2="354.4" stroke="#7c7c7c" stroke-width="0.65" fill="none"/>
<line x1="646.3" y1="340.5" x2="646.3" y2="354.4" stroke="#7c7c7c" stroke-width="0.65" fill="none"/>
<line x1="642.8" y1="341.0" x2="642.8" y2="354.4" stroke="#7c7c7c" stroke-width="0.65" fill="none"/>
<rect x="648.8" y="336.2" width="9.2" height="2.8" rx="0" stroke="#1c1c1c" stroke-width="0.9" fill="#fff"/>
<rect x="648.8" y="357.6" width="9.2" height="5.0" rx="0" stroke="#1c1c1c" stroke-width="0.9" fill="#fff"/>
<path d="M684.0 357.6 H704.8 V354.4 H684.0 Z" stroke="#0a0a0a" stroke-width="1.35" fill="#fff"/>
<path d="M687.3 354.4 V337.5 H692.8 V340.5 H697.8 Q701.3 340.5 701.3 344 V354.4" stroke="#0a0a0a" stroke-width="1.35" fill="#fff"/>
<line x1="690.8" y1="340.5" x2="690.8" y2="354.4" stroke="#7c7c7c" stroke-width="0.65" fill="none"/>
<line x1="695.3" y1="340.5" x2="695.3" y2="354.4" stroke="#7c7c7c" stroke-width="0.65" fill="none"/>
<line x1="698.8" y1="341.0" x2="698.8" y2="354.4" stroke="#7c7c7c" stroke-width="0.65" fill="none"/>
<rect x="683.6" y="336.2" width="9.2" height="2.8" rx="0" stroke="#1c1c1c" stroke-width="0.9" fill="#fff"/>
<rect x="683.6" y="357.6" width="9.2" height="5.0" rx="0" stroke="#1c1c1c" stroke-width="0.9" fill="#fff"/>
<path d="M729.2 407.1 L720.3 419.5 L729.2 419.5 Z" stroke="#0a0a0a" stroke-width="1.35" fill="none"/>
<path d="M729.2 421.1 L717.5 439.4 L729.2 439.4 Z" stroke="#0a0a0a" stroke-width="1.35" fill="none"/>
<path d="M727.6 424.0 L722.8 438.5 L727.6 438.5 Z" stroke="#1c1c1c" stroke-width="0.9" fill="none"/>
<rect x="719.9" y="440.8" width="8.4" height="5.1" rx="0" fill="#111" stroke="#111" stroke-width="0.8"/>
<rect x="722.0" y="442.0" width="4.0" height="1.4" rx="0" fill="#fff" stroke="none"/>
<path d="M717.5 445.9 L729.2 455.7 L729.2 445.9 Z" stroke="#0a0a0a" stroke-width="1.35" fill="none"/>
<rect x="647.6" y="388.5" width="46.4" height="3.0" rx="1.5" stroke="#0a0a0a" stroke-width="1" fill="#777"/>
<rect x="647.6" y="379.6" width="4.4" height="2.4" rx="1.2" stroke="#0a0a0a" stroke-width="1" fill="#b8b8b8"/>
<rect x="686.0" y="379.6" width="10.0" height="2.4" rx="1.2" stroke="#0a0a0a" stroke-width="1" fill="#b8b8b8"/>
<rect x="686.8" y="367.2" width="31.2" height="18.4" rx="1.5" stroke="#0a0a0a" stroke-width="1.35" fill="#fff"/>
<rect x="687.8" y="369.7" width="9.2" height="4.6" rx="1.9" stroke="#0a0a0a" stroke-width="1.2" fill="#6e6e6e"/>
<rect x="700.6" y="369.7" width="14.2" height="4.6" rx="1.9" stroke="#0a0a0a" stroke-width="1.2" fill="#6e6e6e"/>
<rect x="687.8" y="378.5" width="9.2" height="4.6" rx="1.9" stroke="#0a0a0a" stroke-width="1.2" fill="#fff"/>
<rect x="700.6" y="378.5" width="14.2" height="4.6" rx="1.9" stroke="#0a0a0a" stroke-width="1.2" fill="#fff"/>
<rect x="650.0" y="368.0" width="4.0" height="17.6" rx="0.8" stroke="#0a0a0a" stroke-width="1.35" fill="#fff"/>
<rect x="654.0" y="362.9" width="32.8" height="27.5" rx="1.5" stroke="#0a0a0a" stroke-width="1.35" fill="#fff"/>
<path d="M668.0 370.9 L673.7 370.9 L675.1 373.1 L666.6 373.1 Z" stroke="#0a0a0a" stroke-width="1" fill="#ccc"/>
<path d="M664.9 375.6 L676.9 375.6 L678.3 377.8 L663.5 377.8 Z" stroke="#0a0a0a" stroke-width="1" fill="#ccc"/>
<path d="M661.8 380.4 L680.1 380.4 L681.5 382.6 L660.4 382.6 Z" stroke="#0a0a0a" stroke-width="1" fill="#ccc"/>
<path d="M658.7 385.2 L683.3 385.2 L684.7 387.4 L657.3 387.4 Z" stroke="#0a0a0a" stroke-width="1" fill="#ccc"/>
<line x1="670.8" y1="366.5" x2="670.8" y2="390.0" stroke="#0a0a0a" stroke-width="1.1"/>
<polygon points="670.8,365.2 672.2,368.6 669.4,368.6" fill="#222"/>
<line x1="614.0" y1="515.2" x2="727.6" y2="515.2" stroke="#0a0a0a" stroke-width="1.35" fill="none"/>
<rect x="613.2" y="509.6" width="4.8" height="5.0" rx="1" stroke="#1c1c1c" stroke-width="0.9" fill="#fff"/>
<rect x="723.6" y="509.6" width="4.0" height="5.0" rx="1" stroke="#1c1c1c" stroke-width="0.9" fill="#fff"/>
<path d="M614.8 515.2 V528 L608.4 580.8 M727 515.2 V528 L733.4 580.8" stroke="#0a0a0a" stroke-width="1.35" fill="none"/>
<path d="M617 528 L612.4 580.8 M724.8 528 L729.4 580.8" stroke="#1c1c1c" stroke-width="0.9" fill="none"/>
<path d="M618.8 579.2 V542 Q618.8 538.1 622.8 538.1 H660.9 Q664.9 538.1 664.9 542 V579.2 Z" stroke="#0a0a0a" stroke-width="1.35" fill="#fff"/>
<path d="M676.9 579.2 V542 Q676.9 538.1 680.9 538.1 H718.8 Q722.8 538.1 722.8 542 V579.2 Z" stroke="#0a0a0a" stroke-width="1.35" fill="#fff"/>
<line x1="647.6" y1="538.1" x2="647.6" y2="579.2" stroke="#1c1c1c" stroke-width="0.9" fill="none"/>
<line x1="693.7" y1="538.1" x2="693.7" y2="579.2" stroke="#1c1c1c" stroke-width="0.9" fill="none"/>
<rect x="636.4" y="576.8" width="25.6" height="2.6" rx="0" stroke="#1c1c1c" stroke-width="0.9" fill="#fff"/>
<rect x="678.8" y="576.8" width="26.4" height="2.6" rx="0" stroke="#1c1c1c" stroke-width="0.9" fill="#fff"/>
<rect x="668.4" y="530.4" width="4.5" height="50.4" rx="0" stroke="#0a0a0a" stroke-width="1.35" fill="#fff"/>
<path d="M656.6 506.0 L650.2 520.5 L651.6 521.2 L658.0 507.0 Z" stroke="#1c1c1c" stroke-width="0.9" fill="#fff"/>
<rect x="622.8" y="591.5" width="96.0" height="13.5" rx="0" fill="#fff" stroke="#0a0a0a" stroke-width="1"/>
<line x1="623.3" y1="594.0" x2="718.3" y2="592.8" stroke="#141414" stroke-width="2.2" stroke-linecap="butt"/>
<line x1="623.3" y1="596.9" x2="718.3" y2="595.7" stroke="#141414" stroke-width="2.2" stroke-linecap="butt"/>
<line x1="623.3" y1="599.8" x2="718.3" y2="598.6" stroke="#141414" stroke-width="2.2" stroke-linecap="butt"/>
<line x1="623.3" y1="602.8" x2="718.3" y2="601.6" stroke="#141414" stroke-width="2.2" stroke-linecap="butt"/>
<rect x="605.2" y="585.0" width="131.2" height="6.6" rx="0" stroke="#0a0a0a" stroke-width="1.35" fill="#fff"/>
<rect x="601.5" y="580.8" width="138.1" height="4.6" rx="1.6" stroke="#0a0a0a" stroke-width="1.35" fill="#fff"/>
<rect x="622.8" y="627.0" width="95.2" height="5.0" rx="0" fill="#fff" stroke="#0a0a0a" stroke-width="1"/>
<line x1="622.8" y1="628.4" x2="718.0" y2="627.8" stroke="#1a1a1a" stroke-width="1.6"/>
<line x1="622.8" y1="630.8" x2="718.0" y2="630.2" stroke="#1a1a1a" stroke-width="1.6"/>
<rect x="624.4" y="632.0" width="92.8" height="3.3" rx="0" stroke="#0a0a0a" stroke-width="1.35" fill="#fff"/>
<path d="M607.5 611.2 V621 Q607.5 627 614.5 627 H727 Q734 627 734 621 V611.2 Z" stroke="#0a0a0a" stroke-width="1.35" fill="#fff"/>
<path d="M610.5 611.2 V619.5 Q610.5 623.5 615.0 623.5 H617.0 V611.2" stroke="#1c1c1c" stroke-width="0.9" fill="none"/>
<path d="M731 611.2 V619.5 Q731 623.5 726.5 623.5 H724.5 V611.2" stroke="#1c1c1c" stroke-width="0.9" fill="none"/>
<line x1="617.0" y1="623.8" x2="724.5" y2="623.8" stroke="#7c7c7c" stroke-width="0.65" fill="none"/>
<path d="M624.4 611.2 V620.4 A5.2 5.2 0 0 0 634.8 620.4 V611.2" stroke="#0a0a0a" stroke-width="1.35" fill="#fff"/>
<line x1="626.2" y1="611.2" x2="626.2" y2="622.0" stroke="#7c7c7c" stroke-width="0.65" fill="none"/>
<path d="M666.8 611.2 V622.4 A3.2 3.2 0 0 0 673.2 622.4 V611.2" stroke="#0a0a0a" stroke-width="1.35" fill="#fff"/>
<line x1="668.6" y1="611.2" x2="668.6" y2="622.0" stroke="#7c7c7c" stroke-width="0.65" fill="none"/>
<path d="M706.8 611.2 V620.8 A4.8 4.8 0 0 0 716.4 620.8 V611.2" stroke="#0a0a0a" stroke-width="1.35" fill="#fff"/>
<line x1="708.6" y1="611.2" x2="708.6" y2="622.0" stroke="#7c7c7c" stroke-width="0.65" fill="none"/>
<rect x="605.5" y="605.6" width="130.5" height="5.6" rx="0.8" stroke="#0a0a0a" stroke-width="1.35" fill="#fff"/>
<line x1="670.8" y1="580.0" x2="670.8" y2="640.0" stroke="#7c7c7c" stroke-width="0.65" fill="none"/>
<line x1="545.5" y1="70.3" x2="632.0" y2="70.3" stroke="#6e6e6e" stroke-width="0.8" fill="none"/>
<line x1="545.5" y1="70.3" x2="545.5" y2="635.2" stroke="#6e6e6e" stroke-width="0.8" fill="none"/>
<polygon points="545.5,70.3 547.0,78.8 544.0,78.8" fill="#222"/>
<polygon points="545.5,591.7 544.0,583.2 547.0,583.2" fill="#222"/>
<polygon points="545.5,591.7 547.0,600.2 544.0,600.2" fill="#222"/>
<polygon points="545.5,635.2 544.0,626.7 547.0,626.7" fill="#222"/>
<line x1="542.8" y1="591.7" x2="606.0" y2="591.7" stroke="#6e6e6e" stroke-width="0.8" fill="none"/>
<line x1="542.8" y1="635.2" x2="624.0" y2="635.2" stroke="#6e6e6e" stroke-width="0.8" fill="none"/>
<text transform="translate(540.4 349.0) rotate(-90) skewX(-15) scale(0.75 1)" font-size="19.5" font-weight="normal" text-anchor="middle" fill="#222">min 290 - max 410</text>
<text transform="translate(540.3 614.0) rotate(-90) skewX(-15) scale(0.75 1)" font-size="19.2" font-weight="normal" text-anchor="middle" fill="#222">27</text>
<line x1="572.2" y1="204.0" x2="572.2" y2="231.0" stroke="#6e6e6e" stroke-width="0.8" fill="none"/>
<line x1="734.5" y1="223.6" x2="734.5" y2="366.0" stroke="#6e6e6e" stroke-width="0.8" fill="none"/>
<line x1="572.2" y1="227.9" x2="734.5" y2="227.9" stroke="#6e6e6e" stroke-width="0.8" fill="none"/>
<polygon points="572.2,227.9 580.7,226.4 580.7,229.4" fill="#222"/>
<polygon points="734.5,227.9 726.0,229.4 726.0,226.4" fill="#222"/>
<text transform="translate(625.2 221.5) skewX(-15) scale(0.69 1)" font-size="17" font-weight="normal" text-anchor="middle" fill="#222">100</text>
<line x1="622.8" y1="636.0" x2="622.8" y2="665.0" stroke="#6e6e6e" stroke-width="0.8" fill="none"/>
<line x1="718.8" y1="633.0" x2="718.8" y2="665.0" stroke="#6e6e6e" stroke-width="0.8" fill="none"/>
<line x1="622.8" y1="661.9" x2="718.8" y2="661.9" stroke="#6e6e6e" stroke-width="0.8" fill="none"/>
<polygon points="622.8,661.9 631.3,660.4 631.3,663.4" fill="#222"/>
<polygon points="718.8,661.9 710.3,663.4 710.3,660.4" fill="#222"/>
<text transform="translate(669.6 656.2) skewX(-15) scale(0.74 1)" font-size="17.6" font-weight="normal" text-anchor="middle" fill="#222"><tspan font-family="DejaVu Sans, sans-serif" font-size="1.3em" stroke="#222" stroke-width="0.2">⌀</tspan>59,6</text>
<line x1="602.0" y1="585.0" x2="602.0" y2="692.0" stroke="#6e6e6e" stroke-width="0.8" fill="none"/>
<line x1="739.6" y1="585.0" x2="739.6" y2="692.0" stroke="#6e6e6e" stroke-width="0.8" fill="none"/>
<line x1="602.0" y1="688.8" x2="739.6" y2="688.8" stroke="#6e6e6e" stroke-width="0.8" fill="none"/>
<polygon points="602.0,688.8 610.5,687.3 610.5,690.3" fill="#222"/>
<polygon points="739.6,688.8 731.1,690.3 731.1,687.3" fill="#222"/>
<text transform="translate(670.0 682.6) skewX(-15) scale(0.76 1)" font-size="17.6" font-weight="normal" text-anchor="middle" fill="#222"><tspan font-family="DejaVu Sans, sans-serif" font-size="1.3em" stroke="#222" stroke-width="0.2">⌀</tspan>85</text>
</g>
<g id="d4">
<circle cx="795.5" cy="322.9" r="1.7" stroke="#0a0a0a" stroke-width="1.1" fill="#fff"/>
<circle cx="795.5" cy="331.0" r="1.7" stroke="#0a0a0a" stroke-width="1.1" fill="#fff"/>
<circle cx="795.5" cy="339.2" r="1.7" stroke="#0a0a0a" stroke-width="1.1" fill="#fff"/>
<circle cx="795.5" cy="347.3" r="1.7" stroke="#0a0a0a" stroke-width="1.1" fill="#fff"/>
<circle cx="795.5" cy="355.4" r="1.7" stroke="#0a0a0a" stroke-width="1.1" fill="#fff"/>
<circle cx="795.5" cy="396.1" r="1.7" stroke="#0a0a0a" stroke-width="1.1" fill="#fff"/>
<circle cx="795.5" cy="404.2" r="1.7" stroke="#0a0a0a" stroke-width="1.1" fill="#fff"/>
<circle cx="795.5" cy="412.3" r="1.7" stroke="#0a0a0a" stroke-width="1.1" fill="#fff"/>
<circle cx="795.5" cy="420.5" r="1.7" stroke="#0a0a0a" stroke-width="1.1" fill="#fff"/>
<circle cx="795.5" cy="428.6" r="1.7" stroke="#0a0a0a" stroke-width="1.1" fill="#fff"/>
<circle cx="795.5" cy="436.7" r="1.7" stroke="#0a0a0a" stroke-width="1.1" fill="#fff"/>
<circle cx="795.5" cy="444.8" r="1.7" stroke="#0a0a0a" stroke-width="1.1" fill="#fff"/>
<circle cx="795.5" cy="453.0" r="1.7" stroke="#0a0a0a" stroke-width="1.1" fill="#fff"/>
<circle cx="795.5" cy="461.1" r="1.7" stroke="#0a0a0a" stroke-width="1.1" fill="#fff"/>
<circle cx="795.5" cy="469.2" r="1.7" stroke="#0a0a0a" stroke-width="1.1" fill="#fff"/>
<circle cx="795.5" cy="477.4" r="1.7" stroke="#0a0a0a" stroke-width="1.1" fill="#fff"/>
<circle cx="795.5" cy="485.5" r="1.7" stroke="#0a0a0a" stroke-width="1.1" fill="#fff"/>
<circle cx="795.5" cy="493.6" r="1.7" stroke="#0a0a0a" stroke-width="1.1" fill="#fff"/>
<circle cx="795.5" cy="501.8" r="1.7" stroke="#0a0a0a" stroke-width="1.1" fill="#fff"/>
<circle cx="795.5" cy="509.9" r="1.7" stroke="#0a0a0a" stroke-width="1.1" fill="#fff"/>
<circle cx="795.5" cy="518.0" r="1.7" stroke="#0a0a0a" stroke-width="1.1" fill="#fff"/>
<path d="M810.8 147.4 V167 C810.8 180 797.4 186 797.4 201 V531.2" stroke="#0a0a0a" stroke-width="1.35" fill="none"/>
<path d="M814 147.4 V167 C814 180 800.6 186 800.6 201 V527.8" stroke="#1c1c1c" stroke-width="0.9" fill="none"/>
<path d="M816.4 147.4 V167 C816.4 180 803.2 186 803.2 201 V275" stroke="#1c1c1c" stroke-width="0.9" fill="none"/>
<path d="M820.4 147.4 V167 C820.4 180 806.7 186 806.7 201 V497" stroke="#0a0a0a" stroke-width="1.35" fill="none"/>
<path d="M797.4 531.2 L805.2 523.5 V497" stroke="#0a0a0a" stroke-width="1.35" fill="none"/>
<path d="M803.2 275 Q803.4 278 806.7 278.4" stroke="#1c1c1c" stroke-width="0.9" fill="none"/>
<rect x="800.8" y="205.0" width="1.7" height="17.0" rx="0" stroke="#333" stroke-width="0.6" fill="none"/>
<rect x="800.8" y="226.0" width="1.7" height="26.0" rx="0" stroke="#333" stroke-width="0.6" fill="none"/>
<rect x="800.8" y="256.0" width="1.7" height="34.0" rx="0" stroke="#333" stroke-width="0.6" fill="none"/>
<circle cx="800.4" cy="300.0" r="1.1" stroke="#1c1c1c" stroke-width="0.9" fill="none"/>
<circle cx="800.4" cy="344.7" r="1.1" stroke="#1c1c1c" stroke-width="0.9" fill="none"/>
<circle cx="800.4" cy="435.9" r="1.1" stroke="#1c1c1c" stroke-width="0.9" fill="none"/>
<rect x="814.0" y="162.6" width="14.4" height="2.6" rx="0" stroke="#1c1c1c" stroke-width="0.9" fill="#fff"/>
<circle cx="936.5" cy="322.9" r="1.7" stroke="#0a0a0a" stroke-width="1.1" fill="#fff"/>
<circle cx="936.5" cy="331.0" r="1.7" stroke="#0a0a0a" stroke-width="1.1" fill="#fff"/>
<circle cx="936.5" cy="339.2" r="1.7" stroke="#0a0a0a" stroke-width="1.1" fill="#fff"/>
<circle cx="936.5" cy="347.3" r="1.7" stroke="#0a0a0a" stroke-width="1.1" fill="#fff"/>
<circle cx="936.5" cy="355.4" r="1.7" stroke="#0a0a0a" stroke-width="1.1" fill="#fff"/>
<circle cx="936.5" cy="396.1" r="1.7" stroke="#0a0a0a" stroke-width="1.1" fill="#fff"/>
<circle cx="936.5" cy="404.2" r="1.7" stroke="#0a0a0a" stroke-width="1.1" fill="#fff"/>
<circle cx="936.5" cy="412.3" r="1.7" stroke="#0a0a0a" stroke-width="1.1" fill="#fff"/>
<circle cx="936.5" cy="420.5" r="1.7" stroke="#0a0a0a" stroke-width="1.1" fill="#fff"/>
<circle cx="936.5" cy="428.6" r="1.7" stroke="#0a0a0a" stroke-width="1.1" fill="#fff"/>
<circle cx="936.5" cy="436.7" r="1.7" stroke="#0a0a0a" stroke-width="1.1" fill="#fff"/>
<circle cx="936.5" cy="444.8" r="1.7" stroke="#0a0a0a" stroke-width="1.1" fill="#fff"/>
<circle cx="936.5" cy="453.0" r="1.7" stroke="#0a0a0a" stroke-width="1.1" fill="#fff"/>
<circle cx="936.5" cy="461.1" r="1.7" stroke="#0a0a0a" stroke-width="1.1" fill="#fff"/>
<circle cx="936.5" cy="469.2" r="1.7" stroke="#0a0a0a" stroke-width="1.1" fill="#fff"/>
<circle cx="936.5" cy="477.4" r="1.7" stroke="#0a0a0a" stroke-width="1.1" fill="#fff"/>
<circle cx="936.5" cy="485.5" r="1.7" stroke="#0a0a0a" stroke-width="1.1" fill="#fff"/>
<circle cx="936.5" cy="493.6" r="1.7" stroke="#0a0a0a" stroke-width="1.1" fill="#fff"/>
<circle cx="936.5" cy="501.8" r="1.7" stroke="#0a0a0a" stroke-width="1.1" fill="#fff"/>
<circle cx="936.5" cy="509.9" r="1.7" stroke="#0a0a0a" stroke-width="1.1" fill="#fff"/>
<circle cx="936.5" cy="518.0" r="1.7" stroke="#0a0a0a" stroke-width="1.1" fill="#fff"/>
<path d="M921.2 147.4 V167 C921.2 180 934.6 186 934.6 201 V531.2" stroke="#0a0a0a" stroke-width="1.35" fill="none"/>
<path d="M918.0 147.4 V167 C918.0 180 931.4 186 931.4 201 V527.8" stroke="#1c1c1c" stroke-width="0.9" fill="none"/>
<path d="M915.6 147.4 V167 C915.6 180 928.8 186 928.8 201 V275" stroke="#1c1c1c" stroke-width="0.9" fill="none"/>
<path d="M911.6 147.4 V167 C911.6 180 925.3 186 925.3 201 V497" stroke="#0a0a0a" stroke-width="1.35" fill="none"/>
<path d="M934.6 531.2 L926.8 523.5 V497" stroke="#0a0a0a" stroke-width="1.35" fill="none"/>
<path d="M928.8 275 Q928.6 278 925.3 278.4" stroke="#1c1c1c" stroke-width="0.9" fill="none"/>
<rect x="929.5" y="205.0" width="1.7" height="17.0" rx="0" stroke="#333" stroke-width="0.6" fill="none"/>
<rect x="929.5" y="226.0" width="1.7" height="26.0" rx="0" stroke="#333" stroke-width="0.6" fill="none"/>
<rect x="929.5" y="256.0" width="1.7" height="34.0" rx="0" stroke="#333" stroke-width="0.6" fill="none"/>
<circle cx="931.6" cy="300.0" r="1.1" stroke="#1c1c1c" stroke-width="0.9" fill="none"/>
<circle cx="931.6" cy="344.7" r="1.1" stroke="#1c1c1c" stroke-width="0.9" fill="none"/>
<circle cx="931.6" cy="435.9" r="1.1" stroke="#1c1c1c" stroke-width="0.9" fill="none"/>
<rect x="903.6" y="162.6" width="14.4" height="2.6" rx="0" stroke="#1c1c1c" stroke-width="0.9" fill="#fff"/>
<line x1="808.6" y1="398.0" x2="808.6" y2="497.0" stroke="#7c7c7c" stroke-width="0.65" fill="none"/>
<line x1="923.4" y1="398.0" x2="923.4" y2="497.0" stroke="#7c7c7c" stroke-width="0.65" fill="none"/>
<line x1="806.7" y1="497.0" x2="925.3" y2="497.0" stroke="#1c1c1c" stroke-width="0.9" fill="none"/>
<line x1="807.0" y1="498.9" x2="923.0" y2="498.9" stroke="#7c7c7c" stroke-width="0.65" fill="none"/>
<path d="M806.7 497 L810.9 515 H913.4 L922 497" stroke="#0a0a0a" stroke-width="1.35" fill="none"/>
<path d="M915.5 515 L923.9 499 M918 515.5 L925 502" stroke="#1c1c1c" stroke-width="0.9" fill="none"/>
<path d="M807.5 500 L810 512 M809.5 499.5 L812.2 511" stroke="#1c1c1c" stroke-width="0.9" fill="none"/>
<rect x="820.4" y="147.4" width="91.2" height="14.4" rx="0" stroke="#0a0a0a" stroke-width="1.35" fill="#fff"/>
<line x1="820.4" y1="155.5" x2="911.6" y2="155.5" stroke="#1c1c1c" stroke-width="0.9" fill="none"/>
<rect x="810.0" y="134.6" width="112.0" height="12.8" rx="0.8" stroke="#0a0a0a" stroke-width="1.35" fill="#fff"/>
<path d="M838 147 L842 142.3 H890 L894 147" stroke="#1c1c1c" stroke-width="0.9" fill="none"/>
<line x1="829.0" y1="135.0" x2="829.0" y2="147.0" stroke="#7c7c7c" stroke-width="0.65" fill="none"/>
<line x1="836.0" y1="135.0" x2="836.0" y2="147.0" stroke="#7c7c7c" stroke-width="0.65" fill="none"/>
<line x1="896.0" y1="135.0" x2="896.0" y2="147.0" stroke="#7c7c7c" stroke-width="0.65" fill="none"/>
<line x1="903.0" y1="135.0" x2="903.0" y2="147.0" stroke="#7c7c7c" stroke-width="0.65" fill="none"/>
<rect x="856.0" y="143.6" width="6.0" height="3.0" rx="0" fill="#222" stroke="none"/>
<rect x="870.0" y="143.6" width="6.0" height="3.0" rx="0" fill="#222" stroke="none"/>
<rect x="863.2" y="142.6" width="5.6" height="4.2" rx="0" stroke="#1c1c1c" stroke-width="0.9" fill="#fff"/>
<path d="M848.4 134.6 V112 Q848.4 110 850.4 110 H881.1 Q883.1 110 883.1 112 V134.6" stroke="#0a0a0a" stroke-width="1.35" fill="#fff"/>
<rect x="852.4" y="101.2" width="26.4" height="8.8" rx="1" fill="#ddd" stroke="#0a0a0a" stroke-width="1"/>
<line x1="853.0" y1="103.7" x2="878.2" y2="102.7" stroke="#111" stroke-width="1.9" stroke-linecap="butt"/>
<line x1="853.0" y1="106.1" x2="878.2" y2="105.1" stroke="#111" stroke-width="1.9" stroke-linecap="butt"/>
<line x1="853.0" y1="108.5" x2="878.2" y2="107.5" stroke="#111" stroke-width="1.9" stroke-linecap="butt"/>
<path d="M835.3 70.5 V98.2 Q835.3 101.2 838.3 101.2 H893.4 Q896.4 101.2 896.4 98.2 V70.5 Z" stroke="#0a0a0a" stroke-width="1.35" fill="#fff"/>
<line x1="836.5" y1="97.2" x2="895.2" y2="97.2" stroke="#7c7c7c" stroke-width="0.65" fill="none"/>
<path d="M830.2 70.5 Q827 70.5 827.3 67.8 Q827.7 65.5 831.7 65 Q865.8 61.2 899.9 65 Q903.9 65.5 904.3 67.8 Q904.6 70.5 901.4 70.5 Z" stroke="#0a0a0a" stroke-width="1.35" fill="#fff"/>
<path d="M841 64 Q865.8 59 890.6 64" stroke="#0a0a0a" stroke-width="1.35" fill="none"/>
<rect x="844.0" y="161.8" width="43.8" height="8.2" rx="0" stroke="#444" stroke-width="0.7" fill="none"/>
<rect x="847.6" y="170.0" width="37.2" height="9.4" rx="0" stroke="#0a0a0a" stroke-width="1.35" fill="#fff"/>
<rect x="853.0" y="171.5" width="26.0" height="6.5" rx="0" stroke="#1c1c1c" stroke-width="0.9" fill="none"/>
<rect x="857.0" y="173.9" width="6.0" height="1.3" rx="0.65" fill="#222" stroke="none"/>
<rect x="869.0" y="173.9" width="6.0" height="1.3" rx="0.65" fill="#222" stroke="none"/>
<rect x="840.4" y="180.2" width="50.4" height="14.4" rx="0" stroke="#0a0a0a" stroke-width="1.35" fill="#fff"/>
<rect x="843.0" y="183.0" width="4.5" height="9.0" rx="0" stroke="#1c1c1c" stroke-width="0.9" fill="none"/>
<rect x="884.0" y="183.0" width="4.8" height="9.0" rx="0" stroke="#1c1c1c" stroke-width="0.9" fill="none"/>
<rect x="850.6" y="179.4" width="31.2" height="15.8" rx="0" stroke="#0a0a0a" stroke-width="1.35" fill="#fff"/>
<rect x="852.0" y="186.8" width="27.4" height="6.0" rx="0" stroke="#1c1c1c" stroke-width="0.9" fill="none"/>
<line x1="852.0" y1="183.0" x2="879.4" y2="183.0" stroke="#7c7c7c" stroke-width="0.65" fill="none"/>
<rect x="856.0" y="195.2" width="19.8" height="3.6" rx="0" stroke="#1c1c1c" stroke-width="0.9" fill="#fff"/>
<path d="M857.8 196.4 V216 Q857.8 222.8 864.6 222.8 H867.2 Q874 222.8 874 216 V196.4 Z" stroke="#0a0a0a" stroke-width="1.35" fill="#fff"/>
<path d="M862 190 V215 Q862 218 865.9 218 Q869.8 218 869.8 215 V190 Z" stroke="#0a0a0a" stroke-width="1.35" fill="#fff"/>
<rect x="863.6" y="186.0" width="4.6" height="10.0" rx="0" stroke="#1c1c1c" stroke-width="0.9" fill="#fff"/>
<line x1="862.0" y1="206.0" x2="869.8" y2="206.0" stroke="#1c1c1c" stroke-width="0.9" fill="none"/>
<rect x="860.8" y="222.8" width="10.6" height="43.2" rx="0" stroke="#333" stroke-width="0.8" fill="#fff"/>
<path d="M832.8 247.3 Q833.5 261 844 268.4 H888.6 Q898 261 898.7 247.3 Z" stroke="#0a0a0a" stroke-width="1.35" fill="#fff"/>
<line x1="833.5" y1="250.5" x2="898.0" y2="250.5" stroke="#7c7c7c" stroke-width="0.65" fill="none"/>
<line x1="835.0" y1="256.5" x2="896.6" y2="256.5" stroke="#7c7c7c" stroke-width="0.65" fill="none"/>
<line x1="840.5" y1="265.0" x2="891.4" y2="265.0" stroke="#7c7c7c" stroke-width="0.65" fill="none"/>
<rect x="830.8" y="244.1" width="69.9" height="3.2" rx="1.5" stroke="#0a0a0a" stroke-width="1.35" fill="#fff"/>
<rect x="843.6" y="268.4" width="44.8" height="18.4" rx="0" stroke="#1c1c1c" stroke-width="0.9" fill="#fff"/>
<line x1="843.6" y1="271.6" x2="888.4" y2="271.6" stroke="#1c1c1c" stroke-width="0.9" fill="none"/>
<line x1="843.6" y1="274.5" x2="888.4" y2="274.5" stroke="#1c1c1c" stroke-width="0.9" fill="none"/>
<line x1="843.6" y1="283.5" x2="888.4" y2="283.5" stroke="#1c1c1c" stroke-width="0.9" fill="none"/>
<line x1="855.0" y1="271.6" x2="855.0" y2="286.8" stroke="#1c1c1c" stroke-width="0.9" fill="none"/>
<line x1="858.0" y1="271.6" x2="858.0" y2="286.8" stroke="#1c1c1c" stroke-width="0.9" fill="none"/>
<line x1="874.0" y1="271.6" x2="874.0" y2="286.8" stroke="#1c1c1c" stroke-width="0.9" fill="none"/>
<line x1="877.0" y1="271.6" x2="877.0" y2="286.8" stroke="#1c1c1c" stroke-width="0.9" fill="none"/>
<rect x="838.8" y="277.3" width="53.6" height="3.0" rx="1.5" stroke="#0a0a0a" stroke-width="1.1" fill="#fff"/>
<rect x="845.2" y="286.8" width="41.6" height="48.8" rx="0" stroke="#0a0a0a" stroke-width="1.35" fill="#fff"/>
<line x1="845.2" y1="295.6" x2="886.8" y2="295.6" stroke="#222" stroke-width="1.5"/>
<line x1="845.2" y1="297.8" x2="886.8" y2="297.8" stroke="#7c7c7c" stroke-width="0.65" fill="none"/>
<line x1="845.2" y1="303.8" x2="886.8" y2="303.8" stroke="#222" stroke-width="1.5"/>
<line x1="845.2" y1="306.0" x2="886.8" y2="306.0" stroke="#7c7c7c" stroke-width="0.65" fill="none"/>
<line x1="845.2" y1="312.0" x2="886.8" y2="312.0" stroke="#222" stroke-width="1.5"/>
<line x1="845.2" y1="314.2" x2="886.8" y2="314.2" stroke="#7c7c7c" stroke-width="0.65" fill="none"/>
<line x1="845.2" y1="320.2" x2="886.8" y2="320.2" stroke="#222" stroke-width="1.5"/>
<line x1="845.2" y1="322.4" x2="886.8" y2="322.4" stroke="#7c7c7c" stroke-width="0.65" fill="none"/>
<line x1="845.2" y1="328.0" x2="886.8" y2="328.0" stroke="#222" stroke-width="1.5"/>
<line x1="845.2" y1="330.2" x2="886.8" y2="330.2" stroke="#7c7c7c" stroke-width="0.65" fill="none"/>
<path d="M854.0 357.2 H831.4 V354 H854.0 Z" stroke="#0a0a0a" stroke-width="1.35" fill="#fff"/>
<path d="M854.0 354 V336.2 H838.0 Q834.4 336.2 834.4 340 V354" stroke="#0a0a0a" stroke-width="1.35" fill="#fff"/>
<line x1="843.5" y1="338.8" x2="843.5" y2="354.0" stroke="#1c1c1c" stroke-width="0.9" fill="none"/>
<line x1="841.0" y1="338.8" x2="841.0" y2="354.0" stroke="#7c7c7c" stroke-width="0.65" fill="none"/>
<line x1="837.4" y1="339.0" x2="837.4" y2="354.0" stroke="#7c7c7c" stroke-width="0.65" fill="none"/>
<line x1="854.0" y1="338.8" x2="837.4" y2="338.8" stroke="#1c1c1c" stroke-width="0.9" fill="none"/>
<rect x="843.0" y="357.2" width="11.0" height="5.4" rx="0" stroke="#1c1c1c" stroke-width="0.9" fill="#fff"/>
<path d="M878.0 357.2 H900.6 V354 H878.0 Z" stroke="#0a0a0a" stroke-width="1.35" fill="#fff"/>
<path d="M878.0 354 V336.2 H894.0 Q897.6 336.2 897.6 340 V354" stroke="#0a0a0a" stroke-width="1.35" fill="#fff"/>
<line x1="888.5" y1="338.8" x2="888.5" y2="354.0" stroke="#1c1c1c" stroke-width="0.9" fill="none"/>
<line x1="891.0" y1="338.8" x2="891.0" y2="354.0" stroke="#7c7c7c" stroke-width="0.65" fill="none"/>
<line x1="894.6" y1="339.0" x2="894.6" y2="354.0" stroke="#7c7c7c" stroke-width="0.65" fill="none"/>
<line x1="878.0" y1="338.8" x2="894.6" y2="338.8" stroke="#1c1c1c" stroke-width="0.9" fill="none"/>
<rect x="878.0" y="357.2" width="11.0" height="5.4" rx="0" stroke="#1c1c1c" stroke-width="0.9" fill="#fff"/>
<line x1="841.0" y1="336.2" x2="891.0" y2="336.2" stroke="#0a0a0a" stroke-width="1.35" fill="none"/>
<rect x="862.0" y="266.0" width="8.0" height="268.0" rx="0" stroke="#0a0a0a" stroke-width="1" fill="#fff"/>
<rect x="858.6" y="265.4" width="14.8" height="2.7" rx="1.35" stroke="#0a0a0a" stroke-width="1.05" fill="#fff"/>
<rect x="858.6" y="273.5" width="14.8" height="2.7" rx="1.35" stroke="#0a0a0a" stroke-width="1.05" fill="#fff"/>
<rect x="858.6" y="281.6" width="14.8" height="2.7" rx="1.35" stroke="#0a0a0a" stroke-width="1.05" fill="#fff"/>
<rect x="858.6" y="289.7" width="14.8" height="2.7" rx="1.35" stroke="#0a0a0a" stroke-width="1.05" fill="#fff"/>
<rect x="858.6" y="297.7" width="14.8" height="2.7" rx="1.35" stroke="#0a0a0a" stroke-width="1.05" fill="#fff"/>
<rect x="858.6" y="305.8" width="14.8" height="2.7" rx="1.35" stroke="#0a0a0a" stroke-width="1.05" fill="#fff"/>
<rect x="858.6" y="313.9" width="14.8" height="2.7" rx="1.35" stroke="#0a0a0a" stroke-width="1.05" fill="#fff"/>
<rect x="858.6" y="321.9" width="14.8" height="2.7" rx="1.35" stroke="#0a0a0a" stroke-width="1.05" fill="#fff"/>
<rect x="858.6" y="330.0" width="14.8" height="2.7" rx="1.35" stroke="#0a0a0a" stroke-width="1.05" fill="#fff"/>
<rect x="858.6" y="338.1" width="14.8" height="2.7" rx="1.35" stroke="#0a0a0a" stroke-width="1.05" fill="#fff"/>
<rect x="858.6" y="346.1" width="14.8" height="2.7" rx="1.35" stroke="#0a0a0a" stroke-width="1.05" fill="#fff"/>
<rect x="858.6" y="354.2" width="14.8" height="2.7" rx="1.35" stroke="#0a0a0a" stroke-width="1.05" fill="#fff"/>
<rect x="858.6" y="362.3" width="14.8" height="2.7" rx="1.35" stroke="#0a0a0a" stroke-width="1.05" fill="#fff"/>
<rect x="858.6" y="370.4" width="14.8" height="2.7" rx="1.35" stroke="#0a0a0a" stroke-width="1.05" fill="#fff"/>
<rect x="858.6" y="378.4" width="14.8" height="2.7" rx="1.35" stroke="#0a0a0a" stroke-width="1.05" fill="#fff"/>
<rect x="858.6" y="386.5" width="14.8" height="2.7" rx="1.35" stroke="#0a0a0a" stroke-width="1.05" fill="#fff"/>
<rect x="858.6" y="394.6" width="14.8" height="2.7" rx="1.35" stroke="#0a0a0a" stroke-width="1.05" fill="#fff"/>
<rect x="858.6" y="402.6" width="14.8" height="2.7" rx="1.35" stroke="#0a0a0a" stroke-width="1.05" fill="#fff"/>
<rect x="858.6" y="410.7" width="14.8" height="2.7" rx="1.35" stroke="#0a0a0a" stroke-width="1.05" fill="#fff"/>
<rect x="858.6" y="418.8" width="14.8" height="2.7" rx="1.35" stroke="#0a0a0a" stroke-width="1.05" fill="#fff"/>
<rect x="858.6" y="426.8" width="14.8" height="2.7" rx="1.35" stroke="#0a0a0a" stroke-width="1.05" fill="#fff"/>
<rect x="858.6" y="434.9" width="14.8" height="2.7" rx="1.35" stroke="#0a0a0a" stroke-width="1.05" fill="#fff"/>
<rect x="858.6" y="443.0" width="14.8" height="2.7" rx="1.35" stroke="#0a0a0a" stroke-width="1.05" fill="#fff"/>
<rect x="858.6" y="451.1" width="14.8" height="2.7" rx="1.35" stroke="#0a0a0a" stroke-width="1.05" fill="#fff"/>
<rect x="858.6" y="459.1" width="14.8" height="2.7" rx="1.35" stroke="#0a0a0a" stroke-width="1.05" fill="#fff"/>
<rect x="858.6" y="467.2" width="14.8" height="2.7" rx="1.35" stroke="#0a0a0a" stroke-width="1.05" fill="#fff"/>
<rect x="858.6" y="475.3" width="14.8" height="2.7" rx="1.35" stroke="#0a0a0a" stroke-width="1.05" fill="#fff"/>
<rect x="858.6" y="483.3" width="14.8" height="2.7" rx="1.35" stroke="#0a0a0a" stroke-width="1.05" fill="#fff"/>
<rect x="858.6" y="491.4" width="14.8" height="2.7" rx="1.35" stroke="#0a0a0a" stroke-width="1.05" fill="#fff"/>
<rect x="858.6" y="499.5" width="14.8" height="2.7" rx="1.35" stroke="#0a0a0a" stroke-width="1.05" fill="#fff"/>
<rect x="858.6" y="507.5" width="14.8" height="2.7" rx="1.35" stroke="#0a0a0a" stroke-width="1.05" fill="#fff"/>
<rect x="858.6" y="515.6" width="14.8" height="2.7" rx="1.35" stroke="#0a0a0a" stroke-width="1.05" fill="#fff"/>
<rect x="858.6" y="523.7" width="14.8" height="2.7" rx="1.35" stroke="#0a0a0a" stroke-width="1.05" fill="#fff"/>
<rect x="863.1" y="534.0" width="4.8" height="46.8" rx="0" stroke="#0a0a0a" stroke-width="1.35" fill="#fff"/>
<rect x="785.6" y="362.8" width="15.8" height="30.4" rx="1" stroke="#0a0a0a" stroke-width="1.35" fill="#fff"/>
<rect x="790.0" y="366.6" width="7.6" height="19.0" rx="0.8" stroke="#0a0a0a" stroke-width="1.7" fill="#fff"/>
<rect x="802.3" y="380.0" width="8.6" height="2.4" rx="1.2" stroke="#0a0a0a" stroke-width="1" fill="#b8b8b8"/>
<rect x="802.3" y="389.1" width="8.6" height="2.4" rx="1.2" stroke="#0a0a0a" stroke-width="1" fill="#b8b8b8"/>
<line x1="785.6" y1="389.0" x2="801.4" y2="389.0" stroke="#7c7c7c" stroke-width="0.65" fill="none"/>
<rect x="930.6" y="362.8" width="15.8" height="30.4" rx="1" stroke="#0a0a0a" stroke-width="1.35" fill="#fff"/>
<rect x="934.4" y="366.6" width="7.6" height="19.0" rx="0.8" stroke="#0a0a0a" stroke-width="1.7" fill="#fff"/>
<rect x="921.1" y="380.0" width="8.6" height="2.4" rx="1.2" stroke="#0a0a0a" stroke-width="1" fill="#b8b8b8"/>
<rect x="921.1" y="389.1" width="8.6" height="2.4" rx="1.2" stroke="#0a0a0a" stroke-width="1" fill="#b8b8b8"/>
<line x1="946.4" y1="389.0" x2="930.6" y2="389.0" stroke="#7c7c7c" stroke-width="0.65" fill="none"/>
<line x1="801.4" y1="363.3" x2="930.6" y2="363.3" stroke="#0a0a0a" stroke-width="1.35" fill="none"/>
<line x1="801.4" y1="365.8" x2="930.6" y2="365.8" stroke="#1c1c1c" stroke-width="0.9" fill="none"/>
<rect x="802.3" y="371.0" width="54.7" height="2.6" rx="1.3" stroke="#0a0a0a" stroke-width="1" fill="#666"/>
<rect x="875.0" y="371.0" width="54.7" height="2.6" rx="1.3" stroke="#0a0a0a" stroke-width="1" fill="#666"/>
<line x1="809.9" y1="515.3" x2="920.1" y2="515.3" stroke="#0a0a0a" stroke-width="1.35" fill="none"/>
<path d="M809.9 515.3 V527 L805.2 580.7 M922.1 515.3 V527 L926.8 580.7" stroke="#0a0a0a" stroke-width="1.35" fill="none"/>
<path d="M812.8 527 L809.4 580.7 M919.2 527 L922.6 580.7" stroke="#1c1c1c" stroke-width="0.9" fill="none"/>
<path d="M813.3 579.4 V542 Q813.3 538.1 817.3 538.1 H855.3 Q859.3 538.1 859.3 542 V579.4 Z" stroke="#0a0a0a" stroke-width="1.35" fill="#fff"/>
<path d="M872.6 579.4 V542 Q872.6 538.1 876.6 538.1 H914.2 Q918.2 538.1 918.2 542 V579.4 Z" stroke="#0a0a0a" stroke-width="1.35" fill="#fff"/>
<line x1="842.6" y1="538.1" x2="842.6" y2="579.4" stroke="#1c1c1c" stroke-width="0.9" fill="none"/>
<line x1="888.8" y1="538.1" x2="888.8" y2="579.4" stroke="#1c1c1c" stroke-width="0.9" fill="none"/>
<rect x="831.0" y="577.0" width="26.5" height="2.6" rx="0" stroke="#1c1c1c" stroke-width="0.9" fill="#fff"/>
<rect x="873.5" y="577.0" width="26.5" height="2.6" rx="0" stroke="#1c1c1c" stroke-width="0.9" fill="#fff"/>
<rect x="817.1" y="591.5" width="97.7" height="13.5" rx="0" fill="#fff" stroke="#0a0a0a" stroke-width="1"/>
<line x1="817.6" y1="594.0" x2="914.3" y2="592.8" stroke="#141414" stroke-width="2.2" stroke-linecap="butt"/>
<line x1="817.6" y1="596.9" x2="914.3" y2="595.7" stroke="#141414" stroke-width="2.2" stroke-linecap="butt"/>
<line x1="817.6" y1="599.8" x2="914.3" y2="598.6" stroke="#141414" stroke-width="2.2" stroke-linecap="butt"/>
<line x1="817.6" y1="602.8" x2="914.3" y2="601.6" stroke="#141414" stroke-width="2.2" stroke-linecap="butt"/>
<rect x="800.4" y="585.0" width="131.1" height="6.6" rx="0" stroke="#0a0a0a" stroke-width="1.35" fill="#fff"/>
<rect x="796.6" y="580.8" width="138.3" height="4.6" rx="1.6" stroke="#0a0a0a" stroke-width="1.35" fill="#fff"/>
<rect x="817.5" y="627.0" width="96.0" height="5.0" rx="0" fill="#fff" stroke="#0a0a0a" stroke-width="1"/>
<line x1="817.5" y1="628.4" x2="913.5" y2="627.8" stroke="#1a1a1a" stroke-width="1.6"/>
<line x1="817.5" y1="630.8" x2="913.5" y2="630.2" stroke="#1a1a1a" stroke-width="1.6"/>
<rect x="819.8" y="632.0" width="91.8" height="3.3" rx="0" stroke="#0a0a0a" stroke-width="1.35" fill="#fff"/>
<path d="M803.4 611.2 V621 Q803.4 627 810.4 627 H922.1 Q929.1 627 929.1 621 V611.2 Z" stroke="#0a0a0a" stroke-width="1.35" fill="#fff"/>
<path d="M806.4 611.2 V619.5 Q806.4 623.5 810.9 623.5 H812.9 V611.2" stroke="#1c1c1c" stroke-width="0.9" fill="none"/>
<path d="M926.1 611.2 V619.5 Q926.1 623.5 921.6 623.5 H919.6 V611.2" stroke="#1c1c1c" stroke-width="0.9" fill="none"/>
<line x1="812.9" y1="623.8" x2="919.6" y2="623.8" stroke="#7c7c7c" stroke-width="0.65" fill="none"/>
<path d="M820.4 611.2 V620.9 A4.8 4.8 0 0 0 829.9 620.9 V611.2" stroke="#0a0a0a" stroke-width="1.35" fill="#fff"/>
<line x1="822.2" y1="611.2" x2="822.2" y2="622.0" stroke="#7c7c7c" stroke-width="0.65" fill="none"/>
<path d="M862.2 611.2 V622.3 A3.3 3.3 0 0 0 868.8 622.3 V611.2" stroke="#0a0a0a" stroke-width="1.35" fill="#fff"/>
<line x1="864.0" y1="611.2" x2="864.0" y2="622.0" stroke="#7c7c7c" stroke-width="0.65" fill="none"/>
<path d="M901.7 611.2 V620.7 A4.9 4.9 0 0 0 911.6 620.7 V611.2" stroke="#0a0a0a" stroke-width="1.35" fill="#fff"/>
<line x1="903.5" y1="611.2" x2="903.5" y2="622.0" stroke="#7c7c7c" stroke-width="0.65" fill="none"/>
<rect x="801.4" y="605.6" width="129.7" height="5.6" rx="0.8" stroke="#0a0a0a" stroke-width="1.35" fill="#fff"/>
<line x1="866.0" y1="58.0" x2="866.0" y2="640.0" stroke="#7c7c7c" stroke-width="0.65" fill="none"/>
<line x1="835.3" y1="93.5" x2="896.4" y2="93.5" stroke="#6e6e6e" stroke-width="0.8" fill="none"/>
<polygon points="835.3,93.5 843.8,92.0 843.8,95.0" fill="#222"/>
<polygon points="896.4,93.5 887.9,95.0 887.9,92.0" fill="#222"/>
<text transform="translate(865.4 87.7) skewX(-15) scale(0.78 1)" font-size="17.6" font-weight="normal" text-anchor="middle" fill="#222"><tspan font-family="DejaVu Sans, sans-serif" font-size="1.3em" stroke="#222" stroke-width="0.2">⌀</tspan>37</text>
<line x1="785.6" y1="396.6" x2="945.8" y2="396.6" stroke="#6e6e6e" stroke-width="0.8" fill="none"/>
<polygon points="785.6,396.6 794.1,395.1 794.1,398.1" fill="#222"/>
<polygon points="945.8,396.6 937.3,398.1 937.3,395.1" fill="#222"/>
<text transform="translate(890.4 390.0) skewX(-15) scale(0.8 1)" font-size="17.6" font-weight="normal" text-anchor="middle" fill="#222">99</text>
</g>
</svg>
</body></html>
